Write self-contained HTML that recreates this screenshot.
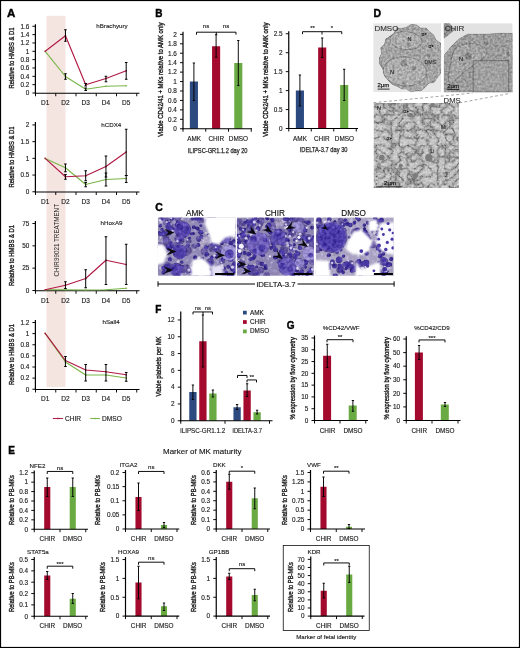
<!DOCTYPE html>
<html><head><meta charset="utf-8"><title>Figure</title>
<style>
html,body{margin:0;padding:0;background:#fff;}
body{width:520px;height:648px;overflow:hidden;font-family:"Liberation Sans",sans-serif;}
svg{display:block;font-family:"Liberation Sans",sans-serif;will-change:transform;}
</style></head><body>
<svg width="520" height="648" viewBox="0 0 520 648">
<rect x="0" y="0" width="520" height="648" fill="#fff"/>
<text x="7.00" y="16.80" font-size="11.5" text-anchor="start" font-weight="bold" fill="#000"  stroke="#000" stroke-width="0.4">A</text>
<rect x="46.50" y="15.80" width="19.00" height="371.20" fill="#f4e5e1" />
<line x1="35.40" y1="24.20" x2="35.40" y2="93.85" stroke="#000" stroke-width="1.2" />
<line x1="34.80" y1="93.25" x2="139.50" y2="93.25" stroke="#000" stroke-width="1.2" />
<line x1="32.40" y1="93.00" x2="35.40" y2="93.00" stroke="#000" stroke-width="0.95" />
<text x="29.30" y="95.30" font-size="6.4" text-anchor="end" font-weight="normal" fill="#1a1a1a"  stroke="#1a1a1a" stroke-width="0.14">0</text>
<line x1="32.40" y1="84.66" x2="35.40" y2="84.66" stroke="#000" stroke-width="0.95" />
<text x="29.30" y="86.96" font-size="6.4" text-anchor="end" font-weight="normal" fill="#1a1a1a"  stroke="#1a1a1a" stroke-width="0.14">0.2</text>
<line x1="32.40" y1="76.32" x2="35.40" y2="76.32" stroke="#000" stroke-width="0.95" />
<text x="29.30" y="78.62" font-size="6.4" text-anchor="end" font-weight="normal" fill="#1a1a1a"  stroke="#1a1a1a" stroke-width="0.14">0.4</text>
<line x1="32.40" y1="67.98" x2="35.40" y2="67.98" stroke="#000" stroke-width="0.95" />
<text x="29.30" y="70.28" font-size="6.4" text-anchor="end" font-weight="normal" fill="#1a1a1a"  stroke="#1a1a1a" stroke-width="0.14">0.6</text>
<line x1="32.40" y1="59.64" x2="35.40" y2="59.64" stroke="#000" stroke-width="0.95" />
<text x="29.30" y="61.94" font-size="6.4" text-anchor="end" font-weight="normal" fill="#1a1a1a"  stroke="#1a1a1a" stroke-width="0.14">0.8</text>
<line x1="32.40" y1="51.30" x2="35.40" y2="51.30" stroke="#000" stroke-width="0.95" />
<text x="29.30" y="53.60" font-size="6.4" text-anchor="end" font-weight="normal" fill="#1a1a1a"  stroke="#1a1a1a" stroke-width="0.14">1</text>
<line x1="32.40" y1="42.96" x2="35.40" y2="42.96" stroke="#000" stroke-width="0.95" />
<text x="29.30" y="45.26" font-size="6.4" text-anchor="end" font-weight="normal" fill="#1a1a1a"  stroke="#1a1a1a" stroke-width="0.14">1.2</text>
<line x1="32.40" y1="34.62" x2="35.40" y2="34.62" stroke="#000" stroke-width="0.95" />
<text x="29.30" y="36.92" font-size="6.4" text-anchor="end" font-weight="normal" fill="#1a1a1a"  stroke="#1a1a1a" stroke-width="0.14">1.4</text>
<line x1="32.40" y1="26.28" x2="35.40" y2="26.28" stroke="#000" stroke-width="0.95" />
<text x="29.30" y="28.58" font-size="6.4" text-anchor="end" font-weight="normal" fill="#1a1a1a"  stroke="#1a1a1a" stroke-width="0.14">1.6</text>
<line x1="35.50" y1="93.25" x2="35.50" y2="96.25" stroke="#000" stroke-width="0.95" />
<line x1="55.75" y1="93.25" x2="55.75" y2="96.25" stroke="#000" stroke-width="0.95" />
<line x1="76.00" y1="93.25" x2="76.00" y2="96.25" stroke="#000" stroke-width="0.95" />
<line x1="96.25" y1="93.25" x2="96.25" y2="96.25" stroke="#000" stroke-width="0.95" />
<line x1="116.50" y1="93.25" x2="116.50" y2="96.25" stroke="#000" stroke-width="0.95" />
<line x1="136.75" y1="93.25" x2="136.75" y2="96.25" stroke="#000" stroke-width="0.95" />
<polyline points="45.20,51.30 65.45,76.50 85.70,89.25 105.95,86.25 126.20,85.75" fill="none" stroke="#7ab648" stroke-width="1.15" stroke-linejoin="round"/>
<polyline points="45.20,51.30 65.45,35.75 85.70,84.75 105.95,78.50 126.20,70.75" fill="none" stroke="#b01a45" stroke-width="1.15" stroke-linejoin="round"/>
<rect x="44.50" y="50.60" width="1.40" height="1.40" fill="#7ab648" />
<rect x="64.75" y="75.80" width="1.40" height="1.40" fill="#7ab648" />
<rect x="85.00" y="88.55" width="1.40" height="1.40" fill="#7ab648" />
<rect x="105.25" y="85.55" width="1.40" height="1.40" fill="#7ab648" />
<rect x="125.50" y="85.05" width="1.40" height="1.40" fill="#7ab648" />
<rect x="44.50" y="50.60" width="1.40" height="1.40" fill="#b01a45" />
<rect x="64.75" y="35.05" width="1.40" height="1.40" fill="#b01a45" />
<rect x="85.00" y="84.05" width="1.40" height="1.40" fill="#b01a45" />
<rect x="105.25" y="77.80" width="1.40" height="1.40" fill="#b01a45" />
<rect x="125.50" y="70.05" width="1.40" height="1.40" fill="#b01a45" />
<line x1="65.45" y1="29.75" x2="65.45" y2="41.25" stroke="#000" stroke-width="1.0" />
<line x1="64.15" y1="29.75" x2="66.75" y2="29.75" stroke="#000" stroke-width="1.0" />
<line x1="64.15" y1="41.25" x2="66.75" y2="41.25" stroke="#000" stroke-width="1.0" />
<line x1="65.45" y1="73.75" x2="65.45" y2="79.25" stroke="#000" stroke-width="1.0" />
<line x1="64.15" y1="73.75" x2="66.75" y2="73.75" stroke="#000" stroke-width="1.0" />
<line x1="64.15" y1="79.25" x2="66.75" y2="79.25" stroke="#000" stroke-width="1.0" />
<line x1="85.70" y1="83.50" x2="85.70" y2="86.00" stroke="#000" stroke-width="1.0" />
<line x1="84.40" y1="83.50" x2="87.00" y2="83.50" stroke="#000" stroke-width="1.0" />
<line x1="84.40" y1="86.00" x2="87.00" y2="86.00" stroke="#000" stroke-width="1.0" />
<line x1="85.70" y1="88.00" x2="85.70" y2="90.50" stroke="#000" stroke-width="1.0" />
<line x1="84.40" y1="88.00" x2="87.00" y2="88.00" stroke="#000" stroke-width="1.0" />
<line x1="84.40" y1="90.50" x2="87.00" y2="90.50" stroke="#000" stroke-width="1.0" />
<line x1="105.95" y1="76.25" x2="105.95" y2="81.75" stroke="#000" stroke-width="1.0" />
<line x1="104.65" y1="76.25" x2="107.25" y2="76.25" stroke="#000" stroke-width="1.0" />
<line x1="104.65" y1="81.75" x2="107.25" y2="81.75" stroke="#000" stroke-width="1.0" />
<line x1="126.20" y1="62.50" x2="126.20" y2="79.25" stroke="#000" stroke-width="1.0" />
<line x1="124.90" y1="62.50" x2="127.50" y2="62.50" stroke="#000" stroke-width="1.0" />
<line x1="124.90" y1="79.25" x2="127.50" y2="79.25" stroke="#000" stroke-width="1.0" />
<text x="45.20" y="105.40" font-size="6.5" text-anchor="middle" font-weight="normal" fill="#1a1a1a"  stroke="#1a1a1a" stroke-width="0.14">D1</text>
<text x="65.45" y="105.40" font-size="6.5" text-anchor="middle" font-weight="normal" fill="#1a1a1a"  stroke="#1a1a1a" stroke-width="0.14">D2</text>
<text x="85.70" y="105.40" font-size="6.5" text-anchor="middle" font-weight="normal" fill="#1a1a1a"  stroke="#1a1a1a" stroke-width="0.14">D3</text>
<text x="105.95" y="105.40" font-size="6.5" text-anchor="middle" font-weight="normal" fill="#1a1a1a"  stroke="#1a1a1a" stroke-width="0.14">D4</text>
<text x="126.20" y="105.40" font-size="6.5" text-anchor="middle" font-weight="normal" fill="#1a1a1a"  stroke="#1a1a1a" stroke-width="0.14">D5</text>
<text x="96.30" y="28.20" font-size="6.2" text-anchor="start" font-weight="normal" fill="#222"  stroke="#222" stroke-width="0.14">hBrachyury</text>
<text transform="translate(14.40,88.50) rotate(-90)" font-size="7.8" fill="#1a1a1a" stroke="#1a1a1a" stroke-width="0.36" textLength="61.00" lengthAdjust="spacingAndGlyphs">Relative to HMBS &amp; D1</text>
<line x1="35.40" y1="122.00" x2="35.40" y2="192.60" stroke="#000" stroke-width="1.2" />
<line x1="34.80" y1="192.00" x2="139.50" y2="192.00" stroke="#000" stroke-width="1.2" />
<line x1="32.40" y1="191.75" x2="35.40" y2="191.75" stroke="#000" stroke-width="0.95" />
<text x="29.30" y="194.05" font-size="6.4" text-anchor="end" font-weight="normal" fill="#1a1a1a"  stroke="#1a1a1a" stroke-width="0.14">0</text>
<line x1="32.40" y1="175.05" x2="35.40" y2="175.05" stroke="#000" stroke-width="0.95" />
<text x="29.30" y="177.35" font-size="6.4" text-anchor="end" font-weight="normal" fill="#1a1a1a"  stroke="#1a1a1a" stroke-width="0.14">0.5</text>
<line x1="32.40" y1="158.35" x2="35.40" y2="158.35" stroke="#000" stroke-width="0.95" />
<text x="29.30" y="160.65" font-size="6.4" text-anchor="end" font-weight="normal" fill="#1a1a1a"  stroke="#1a1a1a" stroke-width="0.14">1</text>
<line x1="32.40" y1="141.65" x2="35.40" y2="141.65" stroke="#000" stroke-width="0.95" />
<text x="29.30" y="143.95" font-size="6.4" text-anchor="end" font-weight="normal" fill="#1a1a1a"  stroke="#1a1a1a" stroke-width="0.14">1.5</text>
<line x1="32.40" y1="124.95" x2="35.40" y2="124.95" stroke="#000" stroke-width="0.95" />
<text x="29.30" y="127.25" font-size="6.4" text-anchor="end" font-weight="normal" fill="#1a1a1a"  stroke="#1a1a1a" stroke-width="0.14">2</text>
<line x1="35.50" y1="192.00" x2="35.50" y2="195.00" stroke="#000" stroke-width="0.95" />
<line x1="55.75" y1="192.00" x2="55.75" y2="195.00" stroke="#000" stroke-width="0.95" />
<line x1="76.00" y1="192.00" x2="76.00" y2="195.00" stroke="#000" stroke-width="0.95" />
<line x1="96.25" y1="192.00" x2="96.25" y2="195.00" stroke="#000" stroke-width="0.95" />
<line x1="116.50" y1="192.00" x2="116.50" y2="195.00" stroke="#000" stroke-width="0.95" />
<line x1="136.75" y1="192.00" x2="136.75" y2="195.00" stroke="#000" stroke-width="0.95" />
<polyline points="45.20,158.40 65.45,167.75 85.70,184.50 105.95,179.50 126.20,178.50" fill="none" stroke="#7ab648" stroke-width="1.15" stroke-linejoin="round"/>
<polyline points="45.20,158.40 65.45,176.75 85.70,175.75 105.95,166.50 126.20,152.00" fill="none" stroke="#b01a45" stroke-width="1.15" stroke-linejoin="round"/>
<rect x="44.50" y="157.70" width="1.40" height="1.40" fill="#7ab648" />
<rect x="64.75" y="167.05" width="1.40" height="1.40" fill="#7ab648" />
<rect x="85.00" y="183.80" width="1.40" height="1.40" fill="#7ab648" />
<rect x="105.25" y="178.80" width="1.40" height="1.40" fill="#7ab648" />
<rect x="125.50" y="177.80" width="1.40" height="1.40" fill="#7ab648" />
<rect x="44.50" y="157.70" width="1.40" height="1.40" fill="#b01a45" />
<rect x="64.75" y="176.05" width="1.40" height="1.40" fill="#b01a45" />
<rect x="85.00" y="175.05" width="1.40" height="1.40" fill="#b01a45" />
<rect x="105.25" y="165.80" width="1.40" height="1.40" fill="#b01a45" />
<rect x="125.50" y="151.30" width="1.40" height="1.40" fill="#b01a45" />
<line x1="65.45" y1="164.00" x2="65.45" y2="171.75" stroke="#000" stroke-width="1.0" />
<line x1="64.15" y1="164.00" x2="66.75" y2="164.00" stroke="#000" stroke-width="1.0" />
<line x1="64.15" y1="171.75" x2="66.75" y2="171.75" stroke="#000" stroke-width="1.0" />
<line x1="65.45" y1="174.50" x2="65.45" y2="179.25" stroke="#000" stroke-width="1.0" />
<line x1="64.15" y1="174.50" x2="66.75" y2="174.50" stroke="#000" stroke-width="1.0" />
<line x1="64.15" y1="179.25" x2="66.75" y2="179.25" stroke="#000" stroke-width="1.0" />
<line x1="85.70" y1="170.75" x2="85.70" y2="180.75" stroke="#000" stroke-width="1.0" />
<line x1="84.40" y1="170.75" x2="87.00" y2="170.75" stroke="#000" stroke-width="1.0" />
<line x1="84.40" y1="180.75" x2="87.00" y2="180.75" stroke="#000" stroke-width="1.0" />
<line x1="85.70" y1="182.50" x2="85.70" y2="186.75" stroke="#000" stroke-width="1.0" />
<line x1="84.40" y1="182.50" x2="87.00" y2="182.50" stroke="#000" stroke-width="1.0" />
<line x1="84.40" y1="186.75" x2="87.00" y2="186.75" stroke="#000" stroke-width="1.0" />
<line x1="105.95" y1="156.00" x2="105.95" y2="177.00" stroke="#000" stroke-width="1.0" />
<line x1="104.65" y1="156.00" x2="107.25" y2="156.00" stroke="#000" stroke-width="1.0" />
<line x1="104.65" y1="177.00" x2="107.25" y2="177.00" stroke="#000" stroke-width="1.0" />
<line x1="105.95" y1="173.00" x2="105.95" y2="186.00" stroke="#000" stroke-width="1.0" />
<line x1="104.65" y1="173.00" x2="107.25" y2="173.00" stroke="#000" stroke-width="1.0" />
<line x1="104.65" y1="186.00" x2="107.25" y2="186.00" stroke="#000" stroke-width="1.0" />
<line x1="126.20" y1="129.25" x2="126.20" y2="175.50" stroke="#000" stroke-width="1.0" />
<line x1="124.90" y1="129.25" x2="127.50" y2="129.25" stroke="#000" stroke-width="1.0" />
<line x1="124.90" y1="175.50" x2="127.50" y2="175.50" stroke="#000" stroke-width="1.0" />
<line x1="126.20" y1="175.50" x2="126.20" y2="182.50" stroke="#000" stroke-width="1.0" />
<line x1="124.90" y1="175.50" x2="127.50" y2="175.50" stroke="#000" stroke-width="1.0" />
<line x1="124.90" y1="182.50" x2="127.50" y2="182.50" stroke="#000" stroke-width="1.0" />
<text x="45.20" y="203.60" font-size="6.5" text-anchor="middle" font-weight="normal" fill="#1a1a1a"  stroke="#1a1a1a" stroke-width="0.14">D1</text>
<text x="65.45" y="203.60" font-size="6.5" text-anchor="middle" font-weight="normal" fill="#1a1a1a"  stroke="#1a1a1a" stroke-width="0.14">D2</text>
<text x="85.70" y="203.60" font-size="6.5" text-anchor="middle" font-weight="normal" fill="#1a1a1a"  stroke="#1a1a1a" stroke-width="0.14">D3</text>
<text x="105.95" y="203.60" font-size="6.5" text-anchor="middle" font-weight="normal" fill="#1a1a1a"  stroke="#1a1a1a" stroke-width="0.14">D4</text>
<text x="126.20" y="203.60" font-size="6.5" text-anchor="middle" font-weight="normal" fill="#1a1a1a"  stroke="#1a1a1a" stroke-width="0.14">D5</text>
<text x="101.30" y="127.00" font-size="6.2" text-anchor="start" font-weight="normal" fill="#222"  stroke="#222" stroke-width="0.14">hCDX4</text>
<text transform="translate(14.40,187.50) rotate(-90)" font-size="7.8" fill="#1a1a1a" stroke="#1a1a1a" stroke-width="0.36" textLength="61.00" lengthAdjust="spacingAndGlyphs">Relative to HMBS &amp; D1</text>
<text transform="translate(58.60,276.50) rotate(-90)" font-size="6.9" fill="#222" stroke="#222" stroke-width="0" textLength="72.50" lengthAdjust="spacingAndGlyphs">CHIR99021 TREATMENT</text>
<line x1="35.40" y1="221.00" x2="35.40" y2="291.35" stroke="#000" stroke-width="1.2" />
<line x1="34.80" y1="290.75" x2="139.50" y2="290.75" stroke="#000" stroke-width="1.2" />
<line x1="32.40" y1="290.50" x2="35.40" y2="290.50" stroke="#000" stroke-width="0.95" />
<text x="29.30" y="292.80" font-size="6.4" text-anchor="end" font-weight="normal" fill="#1a1a1a"  stroke="#1a1a1a" stroke-width="0.14">0</text>
<line x1="32.40" y1="268.17" x2="35.40" y2="268.17" stroke="#000" stroke-width="0.95" />
<text x="29.30" y="270.47" font-size="6.4" text-anchor="end" font-weight="normal" fill="#1a1a1a"  stroke="#1a1a1a" stroke-width="0.14">25</text>
<line x1="32.40" y1="245.84" x2="35.40" y2="245.84" stroke="#000" stroke-width="0.95" />
<text x="29.30" y="248.14" font-size="6.4" text-anchor="end" font-weight="normal" fill="#1a1a1a"  stroke="#1a1a1a" stroke-width="0.14">50</text>
<line x1="32.40" y1="223.51" x2="35.40" y2="223.51" stroke="#000" stroke-width="0.95" />
<text x="29.30" y="225.81" font-size="6.4" text-anchor="end" font-weight="normal" fill="#1a1a1a"  stroke="#1a1a1a" stroke-width="0.14">75</text>
<line x1="35.50" y1="290.75" x2="35.50" y2="293.75" stroke="#000" stroke-width="0.95" />
<line x1="55.75" y1="290.75" x2="55.75" y2="293.75" stroke="#000" stroke-width="0.95" />
<line x1="76.00" y1="290.75" x2="76.00" y2="293.75" stroke="#000" stroke-width="0.95" />
<line x1="96.25" y1="290.75" x2="96.25" y2="293.75" stroke="#000" stroke-width="0.95" />
<line x1="116.50" y1="290.75" x2="116.50" y2="293.75" stroke="#000" stroke-width="0.95" />
<line x1="136.75" y1="290.75" x2="136.75" y2="293.75" stroke="#000" stroke-width="0.95" />
<polyline points="45.20,289.75 65.45,289.75 85.70,290.00 105.95,289.75 126.20,288.30" fill="none" stroke="#7ab648" stroke-width="1.15" stroke-linejoin="round"/>
<polyline points="45.20,289.75 65.45,285.25 85.70,278.50 105.95,260.25 126.20,264.50" fill="none" stroke="#b01a45" stroke-width="1.15" stroke-linejoin="round"/>
<rect x="44.50" y="289.05" width="1.40" height="1.40" fill="#7ab648" />
<rect x="64.75" y="289.05" width="1.40" height="1.40" fill="#7ab648" />
<rect x="85.00" y="289.30" width="1.40" height="1.40" fill="#7ab648" />
<rect x="105.25" y="289.05" width="1.40" height="1.40" fill="#7ab648" />
<rect x="125.50" y="287.60" width="1.40" height="1.40" fill="#7ab648" />
<rect x="44.50" y="289.05" width="1.40" height="1.40" fill="#b01a45" />
<rect x="64.75" y="284.55" width="1.40" height="1.40" fill="#b01a45" />
<rect x="85.00" y="277.80" width="1.40" height="1.40" fill="#b01a45" />
<rect x="105.25" y="259.55" width="1.40" height="1.40" fill="#b01a45" />
<rect x="125.50" y="263.80" width="1.40" height="1.40" fill="#b01a45" />
<line x1="65.45" y1="281.75" x2="65.45" y2="288.50" stroke="#000" stroke-width="1.0" />
<line x1="64.15" y1="281.75" x2="66.75" y2="281.75" stroke="#000" stroke-width="1.0" />
<line x1="64.15" y1="288.50" x2="66.75" y2="288.50" stroke="#000" stroke-width="1.0" />
<line x1="85.70" y1="269.75" x2="85.70" y2="287.75" stroke="#000" stroke-width="1.0" />
<line x1="84.40" y1="269.75" x2="87.00" y2="269.75" stroke="#000" stroke-width="1.0" />
<line x1="84.40" y1="287.75" x2="87.00" y2="287.75" stroke="#000" stroke-width="1.0" />
<line x1="105.95" y1="236.75" x2="105.95" y2="284.50" stroke="#000" stroke-width="1.0" />
<line x1="104.65" y1="236.75" x2="107.25" y2="236.75" stroke="#000" stroke-width="1.0" />
<line x1="104.65" y1="284.50" x2="107.25" y2="284.50" stroke="#000" stroke-width="1.0" />
<line x1="126.20" y1="244.25" x2="126.20" y2="284.50" stroke="#000" stroke-width="1.0" />
<line x1="124.90" y1="244.25" x2="127.50" y2="244.25" stroke="#000" stroke-width="1.0" />
<line x1="124.90" y1="284.50" x2="127.50" y2="284.50" stroke="#000" stroke-width="1.0" />
<text x="45.20" y="302.50" font-size="6.5" text-anchor="middle" font-weight="normal" fill="#1a1a1a"  stroke="#1a1a1a" stroke-width="0.14">D1</text>
<text x="65.45" y="302.50" font-size="6.5" text-anchor="middle" font-weight="normal" fill="#1a1a1a"  stroke="#1a1a1a" stroke-width="0.14">D2</text>
<text x="85.70" y="302.50" font-size="6.5" text-anchor="middle" font-weight="normal" fill="#1a1a1a"  stroke="#1a1a1a" stroke-width="0.14">D3</text>
<text x="105.95" y="302.50" font-size="6.5" text-anchor="middle" font-weight="normal" fill="#1a1a1a"  stroke="#1a1a1a" stroke-width="0.14">D4</text>
<text x="126.20" y="302.50" font-size="6.5" text-anchor="middle" font-weight="normal" fill="#1a1a1a"  stroke="#1a1a1a" stroke-width="0.14">D5</text>
<text x="100.50" y="225.00" font-size="6.2" text-anchor="start" font-weight="normal" fill="#222"  stroke="#222" stroke-width="0.14">hHoxA9</text>
<text transform="translate(14.40,286.00) rotate(-90)" font-size="7.8" fill="#1a1a1a" stroke="#1a1a1a" stroke-width="0.36" textLength="61.00" lengthAdjust="spacingAndGlyphs">Relative to HMBS &amp; D1</text>
<line x1="35.40" y1="320.00" x2="35.40" y2="390.10" stroke="#000" stroke-width="1.2" />
<line x1="34.80" y1="389.50" x2="139.50" y2="389.50" stroke="#000" stroke-width="1.2" />
<line x1="32.40" y1="389.25" x2="35.40" y2="389.25" stroke="#000" stroke-width="0.95" />
<text x="29.30" y="391.55" font-size="6.4" text-anchor="end" font-weight="normal" fill="#1a1a1a"  stroke="#1a1a1a" stroke-width="0.14">0</text>
<line x1="32.40" y1="378.12" x2="35.40" y2="378.12" stroke="#000" stroke-width="0.95" />
<text x="29.30" y="380.43" font-size="6.4" text-anchor="end" font-weight="normal" fill="#1a1a1a"  stroke="#1a1a1a" stroke-width="0.14">0.2</text>
<line x1="32.40" y1="367.00" x2="35.40" y2="367.00" stroke="#000" stroke-width="0.95" />
<text x="29.30" y="369.30" font-size="6.4" text-anchor="end" font-weight="normal" fill="#1a1a1a"  stroke="#1a1a1a" stroke-width="0.14">0.4</text>
<line x1="32.40" y1="355.88" x2="35.40" y2="355.88" stroke="#000" stroke-width="0.95" />
<text x="29.30" y="358.18" font-size="6.4" text-anchor="end" font-weight="normal" fill="#1a1a1a"  stroke="#1a1a1a" stroke-width="0.14">0.6</text>
<line x1="32.40" y1="344.75" x2="35.40" y2="344.75" stroke="#000" stroke-width="0.95" />
<text x="29.30" y="347.05" font-size="6.4" text-anchor="end" font-weight="normal" fill="#1a1a1a"  stroke="#1a1a1a" stroke-width="0.14">0.8</text>
<line x1="32.40" y1="333.62" x2="35.40" y2="333.62" stroke="#000" stroke-width="0.95" />
<text x="29.30" y="335.93" font-size="6.4" text-anchor="end" font-weight="normal" fill="#1a1a1a"  stroke="#1a1a1a" stroke-width="0.14">1</text>
<line x1="32.40" y1="322.50" x2="35.40" y2="322.50" stroke="#000" stroke-width="0.95" />
<text x="29.30" y="324.80" font-size="6.4" text-anchor="end" font-weight="normal" fill="#1a1a1a"  stroke="#1a1a1a" stroke-width="0.14">1.2</text>
<line x1="35.50" y1="389.50" x2="35.50" y2="392.50" stroke="#000" stroke-width="0.95" />
<line x1="55.75" y1="389.50" x2="55.75" y2="392.50" stroke="#000" stroke-width="0.95" />
<line x1="76.00" y1="389.50" x2="76.00" y2="392.50" stroke="#000" stroke-width="0.95" />
<line x1="96.25" y1="389.50" x2="96.25" y2="392.50" stroke="#000" stroke-width="0.95" />
<line x1="116.50" y1="389.50" x2="116.50" y2="392.50" stroke="#000" stroke-width="0.95" />
<line x1="136.75" y1="389.50" x2="136.75" y2="392.50" stroke="#000" stroke-width="0.95" />
<polyline points="45.20,333.40 65.45,362.00 85.70,375.00 105.95,375.00 126.20,378.00" fill="none" stroke="#7ab648" stroke-width="1.15" stroke-linejoin="round"/>
<polyline points="45.20,333.40 65.45,360.50 85.70,370.00 105.95,371.75 126.20,374.75" fill="none" stroke="#b01a45" stroke-width="1.15" stroke-linejoin="round"/>
<rect x="44.50" y="332.70" width="1.40" height="1.40" fill="#7ab648" />
<rect x="64.75" y="361.30" width="1.40" height="1.40" fill="#7ab648" />
<rect x="85.00" y="374.30" width="1.40" height="1.40" fill="#7ab648" />
<rect x="105.25" y="374.30" width="1.40" height="1.40" fill="#7ab648" />
<rect x="125.50" y="377.30" width="1.40" height="1.40" fill="#7ab648" />
<rect x="44.50" y="332.70" width="1.40" height="1.40" fill="#b01a45" />
<rect x="64.75" y="359.80" width="1.40" height="1.40" fill="#b01a45" />
<rect x="85.00" y="369.30" width="1.40" height="1.40" fill="#b01a45" />
<rect x="105.25" y="371.05" width="1.40" height="1.40" fill="#b01a45" />
<rect x="125.50" y="374.05" width="1.40" height="1.40" fill="#b01a45" />
<line x1="65.45" y1="356.50" x2="65.45" y2="366.50" stroke="#000" stroke-width="1.0" />
<line x1="64.15" y1="356.50" x2="66.75" y2="356.50" stroke="#000" stroke-width="1.0" />
<line x1="64.15" y1="366.50" x2="66.75" y2="366.50" stroke="#000" stroke-width="1.0" />
<line x1="85.70" y1="364.50" x2="85.70" y2="381.00" stroke="#000" stroke-width="1.0" />
<line x1="84.40" y1="364.50" x2="87.00" y2="364.50" stroke="#000" stroke-width="1.0" />
<line x1="84.40" y1="381.00" x2="87.00" y2="381.00" stroke="#000" stroke-width="1.0" />
<line x1="105.95" y1="364.50" x2="105.95" y2="381.00" stroke="#000" stroke-width="1.0" />
<line x1="104.65" y1="364.50" x2="107.25" y2="364.50" stroke="#000" stroke-width="1.0" />
<line x1="104.65" y1="381.00" x2="107.25" y2="381.00" stroke="#000" stroke-width="1.0" />
<line x1="126.20" y1="372.50" x2="126.20" y2="381.25" stroke="#000" stroke-width="1.0" />
<line x1="124.90" y1="372.50" x2="127.50" y2="372.50" stroke="#000" stroke-width="1.0" />
<line x1="124.90" y1="381.25" x2="127.50" y2="381.25" stroke="#000" stroke-width="1.0" />
<text x="45.20" y="400.90" font-size="6.5" text-anchor="middle" font-weight="normal" fill="#1a1a1a"  stroke="#1a1a1a" stroke-width="0.14">D1</text>
<text x="65.45" y="400.90" font-size="6.5" text-anchor="middle" font-weight="normal" fill="#1a1a1a"  stroke="#1a1a1a" stroke-width="0.14">D2</text>
<text x="85.70" y="400.90" font-size="6.5" text-anchor="middle" font-weight="normal" fill="#1a1a1a"  stroke="#1a1a1a" stroke-width="0.14">D3</text>
<text x="105.95" y="400.90" font-size="6.5" text-anchor="middle" font-weight="normal" fill="#1a1a1a"  stroke="#1a1a1a" stroke-width="0.14">D4</text>
<text x="126.20" y="400.90" font-size="6.5" text-anchor="middle" font-weight="normal" fill="#1a1a1a"  stroke="#1a1a1a" stroke-width="0.14">D5</text>
<text x="102.50" y="324.00" font-size="6.2" text-anchor="start" font-weight="normal" fill="#222"  stroke="#222" stroke-width="0.14">hSall4</text>
<text transform="translate(14.40,385.00) rotate(-90)" font-size="7.8" fill="#1a1a1a" stroke="#1a1a1a" stroke-width="0.36" textLength="61.00" lengthAdjust="spacingAndGlyphs">Relative to HMBS &amp; D1</text>
<line x1="52.90" y1="418.50" x2="63.00" y2="418.50" stroke="#b01a45" stroke-width="1.0" />
<rect x="57.20" y="417.80" width="1.50" height="1.40" fill="#b01a45" />
<text x="65.00" y="420.80" font-size="6.6" text-anchor="start" font-weight="normal" fill="#1a1a1a"  stroke="#1a1a1a" stroke-width="0.14">CHIR</text>
<line x1="90.20" y1="418.50" x2="100.00" y2="418.50" stroke="#7ab648" stroke-width="1.0" />
<rect x="94.40" y="417.80" width="1.50" height="1.40" fill="#7ab648" />
<text x="102.00" y="420.80" font-size="6.6" text-anchor="start" font-weight="normal" fill="#1a1a1a"  stroke="#1a1a1a" stroke-width="0.14">DMSO</text>
<text x="155.30" y="16.60" font-size="10" text-anchor="start" font-weight="bold" fill="#000"  stroke="#000" stroke-width="0.4">B</text>
<rect x="189.85" y="81.50" width="8.10" height="47.25" fill="#2c4a80" />
<rect x="212.05" y="46.25" width="8.10" height="82.50" fill="#a40a2e" />
<rect x="234.25" y="63.00" width="8.10" height="65.75" fill="#6aaa42" />
<line x1="183.00" y1="31.75" x2="183.00" y2="129.35" stroke="#000" stroke-width="1.2" />
<line x1="182.40" y1="128.75" x2="252.00" y2="128.75" stroke="#000" stroke-width="1.2" />
<line x1="180.00" y1="128.75" x2="183.00" y2="128.75" stroke="#000" stroke-width="0.95" />
<text x="176.80" y="131.05" font-size="6.4" text-anchor="end" font-weight="normal" fill="#1a1a1a"  stroke="#1a1a1a" stroke-width="0.14">0</text>
<line x1="180.00" y1="119.31" x2="183.00" y2="119.31" stroke="#000" stroke-width="0.95" />
<text x="176.80" y="121.61" font-size="6.4" text-anchor="end" font-weight="normal" fill="#1a1a1a"  stroke="#1a1a1a" stroke-width="0.14">0.2</text>
<line x1="180.00" y1="109.87" x2="183.00" y2="109.87" stroke="#000" stroke-width="0.95" />
<text x="176.80" y="112.17" font-size="6.4" text-anchor="end" font-weight="normal" fill="#1a1a1a"  stroke="#1a1a1a" stroke-width="0.14">0.4</text>
<line x1="180.00" y1="100.43" x2="183.00" y2="100.43" stroke="#000" stroke-width="0.95" />
<text x="176.80" y="102.73" font-size="6.4" text-anchor="end" font-weight="normal" fill="#1a1a1a"  stroke="#1a1a1a" stroke-width="0.14">0.6</text>
<line x1="180.00" y1="90.99" x2="183.00" y2="90.99" stroke="#000" stroke-width="0.95" />
<text x="176.80" y="93.29" font-size="6.4" text-anchor="end" font-weight="normal" fill="#1a1a1a"  stroke="#1a1a1a" stroke-width="0.14">0.8</text>
<line x1="180.00" y1="81.55" x2="183.00" y2="81.55" stroke="#000" stroke-width="0.95" />
<text x="176.80" y="83.85" font-size="6.4" text-anchor="end" font-weight="normal" fill="#1a1a1a"  stroke="#1a1a1a" stroke-width="0.14">1</text>
<line x1="180.00" y1="72.11" x2="183.00" y2="72.11" stroke="#000" stroke-width="0.95" />
<text x="176.80" y="74.41" font-size="6.4" text-anchor="end" font-weight="normal" fill="#1a1a1a"  stroke="#1a1a1a" stroke-width="0.14">1.2</text>
<line x1="180.00" y1="62.67" x2="183.00" y2="62.67" stroke="#000" stroke-width="0.95" />
<text x="176.80" y="64.97" font-size="6.4" text-anchor="end" font-weight="normal" fill="#1a1a1a"  stroke="#1a1a1a" stroke-width="0.14">1.4</text>
<line x1="180.00" y1="53.23" x2="183.00" y2="53.23" stroke="#000" stroke-width="0.95" />
<text x="176.80" y="55.53" font-size="6.4" text-anchor="end" font-weight="normal" fill="#1a1a1a"  stroke="#1a1a1a" stroke-width="0.14">1.6</text>
<line x1="180.00" y1="43.79" x2="183.00" y2="43.79" stroke="#000" stroke-width="0.95" />
<text x="176.80" y="46.09" font-size="6.4" text-anchor="end" font-weight="normal" fill="#1a1a1a"  stroke="#1a1a1a" stroke-width="0.14">1.8</text>
<line x1="180.00" y1="34.35" x2="183.00" y2="34.35" stroke="#000" stroke-width="0.95" />
<text x="176.80" y="36.65" font-size="6.4" text-anchor="end" font-weight="normal" fill="#1a1a1a"  stroke="#1a1a1a" stroke-width="0.14">2</text>
<line x1="183.00" y1="128.75" x2="183.00" y2="131.75" stroke="#000" stroke-width="0.95" />
<line x1="205.75" y1="128.75" x2="205.75" y2="131.75" stroke="#000" stroke-width="0.95" />
<line x1="228.50" y1="128.75" x2="228.50" y2="131.75" stroke="#000" stroke-width="0.95" />
<line x1="251.25" y1="128.75" x2="251.25" y2="131.75" stroke="#000" stroke-width="0.95" />
<line x1="193.90" y1="63.00" x2="193.90" y2="100.50" stroke="#000" stroke-width="0.95" />
<line x1="192.75" y1="63.00" x2="195.05" y2="63.00" stroke="#000" stroke-width="0.95" />
<line x1="192.75" y1="100.50" x2="195.05" y2="100.50" stroke="#000" stroke-width="0.95" />
<line x1="216.10" y1="34.75" x2="216.10" y2="57.25" stroke="#000" stroke-width="0.95" />
<line x1="214.95" y1="34.75" x2="217.25" y2="34.75" stroke="#000" stroke-width="0.95" />
<line x1="214.95" y1="57.25" x2="217.25" y2="57.25" stroke="#000" stroke-width="0.95" />
<line x1="238.30" y1="40.50" x2="238.30" y2="85.50" stroke="#000" stroke-width="0.95" />
<line x1="237.15" y1="40.50" x2="239.45" y2="40.50" stroke="#000" stroke-width="0.95" />
<line x1="237.15" y1="85.50" x2="239.45" y2="85.50" stroke="#000" stroke-width="0.95" />
<polyline points="196.50,34.70 196.50,32.20 236.00,32.20 236.00,34.70" fill="none" stroke="#000" stroke-width="0.95"/>
<line x1="216.30" y1="32.20" x2="216.30" y2="35.00" stroke="#000" stroke-width="0.95" />
<text x="206.00" y="28.20" font-size="6" text-anchor="middle" font-weight="normal" fill="#1a1a1a"  stroke="#1a1a1a" stroke-width="0.14">ns</text>
<text x="226.00" y="28.20" font-size="6" text-anchor="middle" font-weight="normal" fill="#1a1a1a"  stroke="#1a1a1a" stroke-width="0.14">ns</text>
<text x="194.20" y="140.60" font-size="6.4" text-anchor="middle" font-weight="normal" fill="#1a1a1a"  stroke="#1a1a1a" stroke-width="0.14">AMK</text>
<text x="216.20" y="140.60" font-size="6.4" text-anchor="middle" font-weight="normal" fill="#1a1a1a"  stroke="#1a1a1a" stroke-width="0.14">CHIR</text>
<text x="238.40" y="140.60" font-size="6.4" text-anchor="middle" font-weight="normal" fill="#1a1a1a"  stroke="#1a1a1a" stroke-width="0.14">DMSO</text>
<text x="217.80" y="152.60" font-size="7.8" text-anchor="middle" font-weight="normal" fill="#1a1a1a" textLength="59.50" lengthAdjust="spacingAndGlyphs" stroke="#1a1a1a" stroke-width="0.25">iLIPSC-GR1.1.2 day 20</text>
<text transform="translate(163.10,136.75) rotate(-90)" font-size="7.8" fill="#1a1a1a" stroke="#1a1a1a" stroke-width="0.36" textLength="114.25" lengthAdjust="spacingAndGlyphs">Viable CD42/41 + MKs relative to AMK only</text>
<rect x="295.85" y="90.50" width="8.10" height="38.00" fill="#2c4a80" />
<rect x="318.15" y="47.50" width="8.10" height="81.00" fill="#a40a2e" />
<rect x="340.15" y="85.00" width="8.10" height="43.50" fill="#6aaa42" />
<line x1="288.75" y1="31.25" x2="288.75" y2="129.10" stroke="#000" stroke-width="1.2" />
<line x1="288.15" y1="128.50" x2="358.00" y2="128.50" stroke="#000" stroke-width="1.2" />
<line x1="285.75" y1="128.50" x2="288.75" y2="128.50" stroke="#000" stroke-width="0.95" />
<text x="282.60" y="130.80" font-size="6.4" text-anchor="end" font-weight="normal" fill="#1a1a1a"  stroke="#1a1a1a" stroke-width="0.14">0</text>
<line x1="285.75" y1="109.55" x2="288.75" y2="109.55" stroke="#000" stroke-width="0.95" />
<text x="282.60" y="111.85" font-size="6.4" text-anchor="end" font-weight="normal" fill="#1a1a1a"  stroke="#1a1a1a" stroke-width="0.14">0.5</text>
<line x1="285.75" y1="90.60" x2="288.75" y2="90.60" stroke="#000" stroke-width="0.95" />
<text x="282.60" y="92.90" font-size="6.4" text-anchor="end" font-weight="normal" fill="#1a1a1a"  stroke="#1a1a1a" stroke-width="0.14">1</text>
<line x1="285.75" y1="71.65" x2="288.75" y2="71.65" stroke="#000" stroke-width="0.95" />
<text x="282.60" y="73.95" font-size="6.4" text-anchor="end" font-weight="normal" fill="#1a1a1a"  stroke="#1a1a1a" stroke-width="0.14">1.5</text>
<line x1="285.75" y1="52.70" x2="288.75" y2="52.70" stroke="#000" stroke-width="0.95" />
<text x="282.60" y="55.00" font-size="6.4" text-anchor="end" font-weight="normal" fill="#1a1a1a"  stroke="#1a1a1a" stroke-width="0.14">2</text>
<line x1="285.75" y1="33.75" x2="288.75" y2="33.75" stroke="#000" stroke-width="0.95" />
<text x="282.60" y="36.05" font-size="6.4" text-anchor="end" font-weight="normal" fill="#1a1a1a"  stroke="#1a1a1a" stroke-width="0.14">2.5</text>
<line x1="288.75" y1="128.50" x2="288.75" y2="131.50" stroke="#000" stroke-width="0.95" />
<line x1="311.25" y1="128.50" x2="311.25" y2="131.50" stroke="#000" stroke-width="0.95" />
<line x1="333.75" y1="128.50" x2="333.75" y2="131.50" stroke="#000" stroke-width="0.95" />
<line x1="356.25" y1="128.50" x2="356.25" y2="131.50" stroke="#000" stroke-width="0.95" />
<line x1="299.90" y1="75.00" x2="299.90" y2="106.00" stroke="#000" stroke-width="0.95" />
<line x1="298.75" y1="75.00" x2="301.05" y2="75.00" stroke="#000" stroke-width="0.95" />
<line x1="298.75" y1="106.00" x2="301.05" y2="106.00" stroke="#000" stroke-width="0.95" />
<line x1="322.20" y1="38.00" x2="322.20" y2="57.50" stroke="#000" stroke-width="0.95" />
<line x1="321.05" y1="38.00" x2="323.35" y2="38.00" stroke="#000" stroke-width="0.95" />
<line x1="321.05" y1="57.50" x2="323.35" y2="57.50" stroke="#000" stroke-width="0.95" />
<line x1="344.20" y1="69.25" x2="344.20" y2="100.50" stroke="#000" stroke-width="0.95" />
<line x1="343.05" y1="69.25" x2="345.35" y2="69.25" stroke="#000" stroke-width="0.95" />
<line x1="343.05" y1="100.50" x2="345.35" y2="100.50" stroke="#000" stroke-width="0.95" />
<polyline points="302.50,34.20 302.50,31.70 341.75,31.70 341.75,34.20" fill="none" stroke="#000" stroke-width="0.95"/>
<line x1="322.00" y1="31.70" x2="322.00" y2="34.50" stroke="#000" stroke-width="0.95" />
<text x="312.50" y="30.40" font-size="6" text-anchor="middle" font-weight="normal" fill="#1a1a1a"  stroke="#1a1a1a" stroke-width="0.14">**</text>
<text x="332.00" y="30.40" font-size="6" text-anchor="middle" font-weight="normal" fill="#1a1a1a"  stroke="#1a1a1a" stroke-width="0.14">*</text>
<text x="300.00" y="140.60" font-size="6.4" text-anchor="middle" font-weight="normal" fill="#1a1a1a"  stroke="#1a1a1a" stroke-width="0.14">AMK</text>
<text x="321.75" y="140.60" font-size="6.4" text-anchor="middle" font-weight="normal" fill="#1a1a1a"  stroke="#1a1a1a" stroke-width="0.14">CHIR</text>
<text x="344.40" y="140.60" font-size="6.4" text-anchor="middle" font-weight="normal" fill="#1a1a1a"  stroke="#1a1a1a" stroke-width="0.14">DMSO</text>
<text x="323.75" y="152.30" font-size="7.8" text-anchor="middle" font-weight="normal" fill="#1a1a1a" textLength="47.50" lengthAdjust="spacingAndGlyphs" stroke="#1a1a1a" stroke-width="0.25">iDELTA-3.7 day 30</text>
<text transform="translate(268.10,136.75) rotate(-90)" font-size="7.8" fill="#1a1a1a" stroke="#1a1a1a" stroke-width="0.36" textLength="114.25" lengthAdjust="spacingAndGlyphs">Viable CD42/41 + MKs relative to AMK only</text>
<text x="155.30" y="313.30" font-size="10" text-anchor="start" font-weight="bold" fill="#000"  stroke="#000" stroke-width="0.4">F</text>
<rect x="189.25" y="392.00" width="7.30" height="28.75" fill="#2c4a80" />
<rect x="199.25" y="341.25" width="7.30" height="79.50" fill="#a40a2e" />
<rect x="209.25" y="393.50" width="7.30" height="27.25" fill="#6aaa42" />
<rect x="233.45" y="407.25" width="7.30" height="13.50" fill="#2c4a80" />
<rect x="243.45" y="390.50" width="7.30" height="30.25" fill="#a40a2e" />
<rect x="253.45" y="412.25" width="7.30" height="8.50" fill="#6aaa42" />
<line x1="180.75" y1="311.50" x2="180.75" y2="421.35" stroke="#000" stroke-width="1.2" />
<line x1="180.15" y1="420.75" x2="272.50" y2="420.75" stroke="#000" stroke-width="1.2" />
<line x1="177.75" y1="420.75" x2="180.75" y2="420.75" stroke="#000" stroke-width="0.95" />
<text x="174.60" y="423.05" font-size="6.4" text-anchor="end" font-weight="normal" fill="#1a1a1a"  stroke="#1a1a1a" stroke-width="0.14">0</text>
<line x1="177.75" y1="403.95" x2="180.75" y2="403.95" stroke="#000" stroke-width="0.95" />
<text x="174.60" y="406.25" font-size="6.4" text-anchor="end" font-weight="normal" fill="#1a1a1a"  stroke="#1a1a1a" stroke-width="0.14">2</text>
<line x1="177.75" y1="387.15" x2="180.75" y2="387.15" stroke="#000" stroke-width="0.95" />
<text x="174.60" y="389.45" font-size="6.4" text-anchor="end" font-weight="normal" fill="#1a1a1a"  stroke="#1a1a1a" stroke-width="0.14">4</text>
<line x1="177.75" y1="370.35" x2="180.75" y2="370.35" stroke="#000" stroke-width="0.95" />
<text x="174.60" y="372.65" font-size="6.4" text-anchor="end" font-weight="normal" fill="#1a1a1a"  stroke="#1a1a1a" stroke-width="0.14">6</text>
<line x1="177.75" y1="353.55" x2="180.75" y2="353.55" stroke="#000" stroke-width="0.95" />
<text x="174.60" y="355.85" font-size="6.4" text-anchor="end" font-weight="normal" fill="#1a1a1a"  stroke="#1a1a1a" stroke-width="0.14">8</text>
<line x1="177.75" y1="336.75" x2="180.75" y2="336.75" stroke="#000" stroke-width="0.95" />
<text x="174.60" y="339.05" font-size="6.4" text-anchor="end" font-weight="normal" fill="#1a1a1a"  stroke="#1a1a1a" stroke-width="0.14">10</text>
<line x1="177.75" y1="319.95" x2="180.75" y2="319.95" stroke="#000" stroke-width="0.95" />
<text x="174.60" y="322.25" font-size="6.4" text-anchor="end" font-weight="normal" fill="#1a1a1a"  stroke="#1a1a1a" stroke-width="0.14">12</text>
<line x1="180.75" y1="420.75" x2="180.75" y2="423.75" stroke="#000" stroke-width="0.95" />
<line x1="225.00" y1="420.75" x2="225.00" y2="423.75" stroke="#000" stroke-width="0.95" />
<line x1="269.50" y1="420.75" x2="269.50" y2="423.75" stroke="#000" stroke-width="0.95" />
<line x1="192.90" y1="385.00" x2="192.90" y2="399.50" stroke="#000" stroke-width="0.95" />
<line x1="191.75" y1="385.00" x2="194.05" y2="385.00" stroke="#000" stroke-width="0.95" />
<line x1="191.75" y1="399.50" x2="194.05" y2="399.50" stroke="#000" stroke-width="0.95" />
<line x1="202.90" y1="315.00" x2="202.90" y2="367.00" stroke="#000" stroke-width="0.95" />
<line x1="201.75" y1="315.00" x2="204.05" y2="315.00" stroke="#000" stroke-width="0.95" />
<line x1="201.75" y1="367.00" x2="204.05" y2="367.00" stroke="#000" stroke-width="0.95" />
<line x1="212.90" y1="390.00" x2="212.90" y2="397.00" stroke="#000" stroke-width="0.95" />
<line x1="211.75" y1="390.00" x2="214.05" y2="390.00" stroke="#000" stroke-width="0.95" />
<line x1="211.75" y1="397.00" x2="214.05" y2="397.00" stroke="#000" stroke-width="0.95" />
<line x1="237.10" y1="404.50" x2="237.10" y2="409.50" stroke="#000" stroke-width="0.95" />
<line x1="235.95" y1="404.50" x2="238.25" y2="404.50" stroke="#000" stroke-width="0.95" />
<line x1="235.95" y1="409.50" x2="238.25" y2="409.50" stroke="#000" stroke-width="0.95" />
<line x1="247.10" y1="383.75" x2="247.10" y2="396.50" stroke="#000" stroke-width="0.95" />
<line x1="245.95" y1="383.75" x2="248.25" y2="383.75" stroke="#000" stroke-width="0.95" />
<line x1="245.95" y1="396.50" x2="248.25" y2="396.50" stroke="#000" stroke-width="0.95" />
<line x1="257.10" y1="410.25" x2="257.10" y2="414.00" stroke="#000" stroke-width="0.95" />
<line x1="255.95" y1="410.25" x2="258.25" y2="410.25" stroke="#000" stroke-width="0.95" />
<line x1="255.95" y1="414.00" x2="258.25" y2="414.00" stroke="#000" stroke-width="0.95" />
<polyline points="193.00,314.45 193.00,311.95 212.50,311.95 212.50,314.45" fill="none" stroke="#000" stroke-width="0.95"/>
<line x1="203.00" y1="311.95" x2="203.00" y2="314.75" stroke="#000" stroke-width="0.95" />
<text x="197.75" y="309.60" font-size="5.8" text-anchor="middle" font-weight="normal" fill="#1a1a1a"  stroke="#1a1a1a" stroke-width="0.14">ns</text>
<text x="207.90" y="309.60" font-size="5.8" text-anchor="middle" font-weight="normal" fill="#1a1a1a"  stroke="#1a1a1a" stroke-width="0.14">ns</text>
<polyline points="237.50,377.95 237.50,375.45 247.00,375.45 247.00,377.95" fill="none" stroke="#000" stroke-width="0.95"/>
<text x="242.00" y="374.60" font-size="6" text-anchor="middle" font-weight="normal" fill="#1a1a1a"  stroke="#1a1a1a" stroke-width="0.14">*</text>
<polyline points="247.00,382.45 247.00,379.95 256.50,379.95 256.50,382.45" fill="none" stroke="#000" stroke-width="0.95"/>
<text x="251.75" y="379.20" font-size="6" text-anchor="middle" font-weight="normal" fill="#1a1a1a"  stroke="#1a1a1a" stroke-width="0.14">**</text>
<rect x="243.00" y="310.75" width="3.75" height="3.75" fill="#2c4a80" />
<text x="250.00" y="314.65" font-size="6.4" text-anchor="start" font-weight="normal" fill="#1a1a1a"  stroke="#1a1a1a" stroke-width="0.14">AMK</text>
<rect x="243.00" y="320.15" width="3.75" height="3.75" fill="#a40a2e" />
<text x="250.00" y="324.05" font-size="6.4" text-anchor="start" font-weight="normal" fill="#1a1a1a"  stroke="#1a1a1a" stroke-width="0.14">CHIR</text>
<rect x="243.00" y="329.55" width="3.75" height="3.75" fill="#6aaa42" />
<text x="250.00" y="333.45" font-size="6.4" text-anchor="start" font-weight="normal" fill="#1a1a1a"  stroke="#1a1a1a" stroke-width="0.14">DMSO</text>
<text transform="translate(161.20,396.50) rotate(-90)" font-size="7.8" fill="#1a1a1a" stroke="#1a1a1a" stroke-width="0.36" textLength="60.00" lengthAdjust="spacingAndGlyphs">Viable platelets per MK</text>
<text x="202.75" y="433.00" font-size="6.3" text-anchor="middle" font-weight="normal" fill="#1a1a1a" textLength="45.00" lengthAdjust="spacingAndGlyphs"  stroke="#1a1a1a" stroke-width="0.14">iLIPSC-GR1.1.2</text>
<text x="247.25" y="433.00" font-size="6.3" text-anchor="middle" font-weight="normal" fill="#1a1a1a" textLength="29.30" lengthAdjust="spacingAndGlyphs"  stroke="#1a1a1a" stroke-width="0.14">iDELTA-3.7</text>
<text x="286.80" y="328.80" font-size="10" text-anchor="start" font-weight="bold" fill="#000"  stroke="#000" stroke-width="0.4">G</text>
<rect x="323.10" y="355.75" width="8.00" height="64.75" fill="#a40a2e" />
<rect x="348.70" y="405.50" width="8.00" height="15.00" fill="#6aaa42" />
<line x1="314.50" y1="335.50" x2="314.50" y2="421.10" stroke="#000" stroke-width="1.2" />
<line x1="313.90" y1="420.50" x2="368.00" y2="420.50" stroke="#000" stroke-width="1.2" />
<line x1="311.50" y1="420.50" x2="314.50" y2="420.50" stroke="#000" stroke-width="0.95" />
<text x="308.30" y="422.80" font-size="6.4" text-anchor="end" font-weight="normal" fill="#1a1a1a"  stroke="#1a1a1a" stroke-width="0.14">0</text>
<line x1="311.50" y1="408.71" x2="314.50" y2="408.71" stroke="#000" stroke-width="0.95" />
<text x="308.30" y="411.01" font-size="6.4" text-anchor="end" font-weight="normal" fill="#1a1a1a"  stroke="#1a1a1a" stroke-width="0.14">5</text>
<line x1="311.50" y1="396.92" x2="314.50" y2="396.92" stroke="#000" stroke-width="0.95" />
<text x="308.30" y="399.22" font-size="6.4" text-anchor="end" font-weight="normal" fill="#1a1a1a"  stroke="#1a1a1a" stroke-width="0.14">10</text>
<line x1="311.50" y1="385.13" x2="314.50" y2="385.13" stroke="#000" stroke-width="0.95" />
<text x="308.30" y="387.43" font-size="6.4" text-anchor="end" font-weight="normal" fill="#1a1a1a"  stroke="#1a1a1a" stroke-width="0.14">15</text>
<line x1="311.50" y1="373.34" x2="314.50" y2="373.34" stroke="#000" stroke-width="0.95" />
<text x="308.30" y="375.64" font-size="6.4" text-anchor="end" font-weight="normal" fill="#1a1a1a"  stroke="#1a1a1a" stroke-width="0.14">20</text>
<line x1="311.50" y1="361.55" x2="314.50" y2="361.55" stroke="#000" stroke-width="0.95" />
<text x="308.30" y="363.85" font-size="6.4" text-anchor="end" font-weight="normal" fill="#1a1a1a"  stroke="#1a1a1a" stroke-width="0.14">25</text>
<line x1="311.50" y1="349.76" x2="314.50" y2="349.76" stroke="#000" stroke-width="0.95" />
<text x="308.30" y="352.06" font-size="6.4" text-anchor="end" font-weight="normal" fill="#1a1a1a"  stroke="#1a1a1a" stroke-width="0.14">30</text>
<line x1="311.50" y1="337.97" x2="314.50" y2="337.97" stroke="#000" stroke-width="0.95" />
<text x="308.30" y="340.27" font-size="6.4" text-anchor="end" font-weight="normal" fill="#1a1a1a"  stroke="#1a1a1a" stroke-width="0.14">35</text>
<line x1="314.50" y1="420.50" x2="314.50" y2="423.50" stroke="#000" stroke-width="0.95" />
<line x1="340.00" y1="420.50" x2="340.00" y2="423.50" stroke="#000" stroke-width="0.95" />
<line x1="365.75" y1="420.50" x2="365.75" y2="423.50" stroke="#000" stroke-width="0.95" />
<line x1="327.25" y1="344.25" x2="327.25" y2="367.50" stroke="#000" stroke-width="0.95" />
<line x1="326.10" y1="344.25" x2="328.40" y2="344.25" stroke="#000" stroke-width="0.95" />
<line x1="326.10" y1="367.50" x2="328.40" y2="367.50" stroke="#000" stroke-width="0.95" />
<line x1="352.90" y1="400.50" x2="352.90" y2="411.25" stroke="#000" stroke-width="0.95" />
<line x1="351.75" y1="400.50" x2="354.05" y2="400.50" stroke="#000" stroke-width="0.95" />
<line x1="351.75" y1="411.25" x2="354.05" y2="411.25" stroke="#000" stroke-width="0.95" />
<polyline points="327.00,342.20 327.00,339.70 353.00,339.70 353.00,342.20" fill="none" stroke="#000" stroke-width="0.95"/>
<text x="340.00" y="339.30" font-size="6" text-anchor="middle" font-weight="normal" fill="#1a1a1a"  stroke="#1a1a1a" stroke-width="0.14">**</text>
<text x="341.25" y="330.00" font-size="6.2" text-anchor="middle" font-weight="normal" fill="#1a1a1a"  stroke="#1a1a1a" stroke-width="0.14">%CD42/VWF</text>
<text x="327.50" y="432.50" font-size="6.4" text-anchor="middle" font-weight="normal" fill="#1a1a1a"  stroke="#1a1a1a" stroke-width="0.14">CHIR</text>
<text x="353.00" y="432.50" font-size="6.4" text-anchor="middle" font-weight="normal" fill="#1a1a1a"  stroke="#1a1a1a" stroke-width="0.14">DMSO</text>
<text transform="translate(294.90,419.50) rotate(-90)" font-size="7.8" fill="#1a1a1a" stroke="#1a1a1a" stroke-width="0.36" textLength="82.50" lengthAdjust="spacingAndGlyphs">% expression by flow cytometry</text>
<rect x="414.90" y="352.50" width="8.00" height="68.00" fill="#a40a2e" />
<rect x="440.80" y="404.50" width="8.00" height="16.00" fill="#6aaa42" />
<line x1="406.25" y1="336.25" x2="406.25" y2="421.10" stroke="#000" stroke-width="1.2" />
<line x1="405.65" y1="420.50" x2="460.50" y2="420.50" stroke="#000" stroke-width="1.2" />
<line x1="403.25" y1="420.50" x2="406.25" y2="420.50" stroke="#000" stroke-width="0.95" />
<text x="400.10" y="422.80" font-size="6.4" text-anchor="end" font-weight="normal" fill="#1a1a1a"  stroke="#1a1a1a" stroke-width="0.14">0</text>
<line x1="403.25" y1="406.92" x2="406.25" y2="406.92" stroke="#000" stroke-width="0.95" />
<text x="400.10" y="409.22" font-size="6.4" text-anchor="end" font-weight="normal" fill="#1a1a1a"  stroke="#1a1a1a" stroke-width="0.14">10</text>
<line x1="403.25" y1="393.34" x2="406.25" y2="393.34" stroke="#000" stroke-width="0.95" />
<text x="400.10" y="395.64" font-size="6.4" text-anchor="end" font-weight="normal" fill="#1a1a1a"  stroke="#1a1a1a" stroke-width="0.14">20</text>
<line x1="403.25" y1="379.76" x2="406.25" y2="379.76" stroke="#000" stroke-width="0.95" />
<text x="400.10" y="382.06" font-size="6.4" text-anchor="end" font-weight="normal" fill="#1a1a1a"  stroke="#1a1a1a" stroke-width="0.14">30</text>
<line x1="403.25" y1="366.18" x2="406.25" y2="366.18" stroke="#000" stroke-width="0.95" />
<text x="400.10" y="368.48" font-size="6.4" text-anchor="end" font-weight="normal" fill="#1a1a1a"  stroke="#1a1a1a" stroke-width="0.14">40</text>
<line x1="403.25" y1="352.60" x2="406.25" y2="352.60" stroke="#000" stroke-width="0.95" />
<text x="400.10" y="354.90" font-size="6.4" text-anchor="end" font-weight="normal" fill="#1a1a1a"  stroke="#1a1a1a" stroke-width="0.14">50</text>
<line x1="403.25" y1="339.02" x2="406.25" y2="339.02" stroke="#000" stroke-width="0.95" />
<text x="400.10" y="341.32" font-size="6.4" text-anchor="end" font-weight="normal" fill="#1a1a1a"  stroke="#1a1a1a" stroke-width="0.14">60</text>
<line x1="406.25" y1="420.50" x2="406.25" y2="423.50" stroke="#000" stroke-width="0.95" />
<line x1="432.00" y1="420.50" x2="432.00" y2="423.50" stroke="#000" stroke-width="0.95" />
<line x1="458.00" y1="420.50" x2="458.00" y2="423.50" stroke="#000" stroke-width="0.95" />
<line x1="419.10" y1="345.50" x2="419.10" y2="359.50" stroke="#000" stroke-width="0.95" />
<line x1="417.95" y1="345.50" x2="420.25" y2="345.50" stroke="#000" stroke-width="0.95" />
<line x1="417.95" y1="359.50" x2="420.25" y2="359.50" stroke="#000" stroke-width="0.95" />
<line x1="445.00" y1="402.50" x2="445.00" y2="406.50" stroke="#000" stroke-width="0.95" />
<line x1="443.85" y1="402.50" x2="446.15" y2="402.50" stroke="#000" stroke-width="0.95" />
<line x1="443.85" y1="406.50" x2="446.15" y2="406.50" stroke="#000" stroke-width="0.95" />
<polyline points="419.00,342.45 419.00,339.95 445.00,339.95 445.00,342.45" fill="none" stroke="#000" stroke-width="0.95"/>
<text x="432.00" y="339.50" font-size="6" text-anchor="middle" font-weight="normal" fill="#1a1a1a"  stroke="#1a1a1a" stroke-width="0.14">***</text>
<text x="432.00" y="330.00" font-size="6.2" text-anchor="middle" font-weight="normal" fill="#1a1a1a"  stroke="#1a1a1a" stroke-width="0.14">%CD42/CD9</text>
<text x="419.25" y="432.50" font-size="6.4" text-anchor="middle" font-weight="normal" fill="#1a1a1a"  stroke="#1a1a1a" stroke-width="0.14">CHIR</text>
<text x="445.00" y="432.50" font-size="6.4" text-anchor="middle" font-weight="normal" fill="#1a1a1a"  stroke="#1a1a1a" stroke-width="0.14">DMSO</text>
<text transform="translate(388.70,419.50) rotate(-90)" font-size="7.8" fill="#1a1a1a" stroke="#1a1a1a" stroke-width="0.36" textLength="82.50" lengthAdjust="spacingAndGlyphs">% expression by flow cytometry</text>
<text x="8.20" y="453.80" font-size="10" text-anchor="start" font-weight="bold" fill="#000"  stroke="#000" stroke-width="0.4">E</text>
<text x="163.00" y="454.40" font-size="7.8" text-anchor="start" font-weight="normal" fill="#1a1a1a" textLength="78.50" lengthAdjust="spacingAndGlyphs"  stroke="#1a1a1a" stroke-width="0.14">Marker of MK maturity</text>
<rect x="44.20" y="487.00" width="6.10" height="42.25" fill="#a40a2e" />
<rect x="69.70" y="487.00" width="6.10" height="42.25" fill="#6aaa42" />
<line x1="34.25" y1="470.50" x2="34.25" y2="529.85" stroke="#000" stroke-width="1.2" />
<line x1="33.65" y1="529.25" x2="88.00" y2="529.25" stroke="#000" stroke-width="1.2" />
<line x1="31.25" y1="529.25" x2="34.25" y2="529.25" stroke="#000" stroke-width="0.95" />
<text x="28.15" y="531.55" font-size="6.4" text-anchor="end" font-weight="normal" fill="#1a1a1a"  stroke="#1a1a1a" stroke-width="0.14">0</text>
<line x1="31.25" y1="519.83" x2="34.25" y2="519.83" stroke="#000" stroke-width="0.95" />
<text x="28.15" y="522.13" font-size="6.4" text-anchor="end" font-weight="normal" fill="#1a1a1a"  stroke="#1a1a1a" stroke-width="0.14">0.2</text>
<line x1="31.25" y1="510.41" x2="34.25" y2="510.41" stroke="#000" stroke-width="0.95" />
<text x="28.15" y="512.71" font-size="6.4" text-anchor="end" font-weight="normal" fill="#1a1a1a"  stroke="#1a1a1a" stroke-width="0.14">0.4</text>
<line x1="31.25" y1="500.99" x2="34.25" y2="500.99" stroke="#000" stroke-width="0.95" />
<text x="28.15" y="503.29" font-size="6.4" text-anchor="end" font-weight="normal" fill="#1a1a1a"  stroke="#1a1a1a" stroke-width="0.14">0.6</text>
<line x1="31.25" y1="491.57" x2="34.25" y2="491.57" stroke="#000" stroke-width="0.95" />
<text x="28.15" y="493.87" font-size="6.4" text-anchor="end" font-weight="normal" fill="#1a1a1a"  stroke="#1a1a1a" stroke-width="0.14">0.8</text>
<line x1="31.25" y1="482.15" x2="34.25" y2="482.15" stroke="#000" stroke-width="0.95" />
<text x="28.15" y="484.45" font-size="6.4" text-anchor="end" font-weight="normal" fill="#1a1a1a"  stroke="#1a1a1a" stroke-width="0.14">1</text>
<line x1="31.25" y1="472.73" x2="34.25" y2="472.73" stroke="#000" stroke-width="0.95" />
<text x="28.15" y="475.03" font-size="6.4" text-anchor="end" font-weight="normal" fill="#1a1a1a"  stroke="#1a1a1a" stroke-width="0.14">1.2</text>
<line x1="34.25" y1="529.25" x2="34.25" y2="532.25" stroke="#000" stroke-width="0.95" />
<line x1="60.00" y1="529.25" x2="60.00" y2="532.25" stroke="#000" stroke-width="0.95" />
<line x1="85.75" y1="529.25" x2="85.75" y2="532.25" stroke="#000" stroke-width="0.95" />
<line x1="47.25" y1="478.00" x2="47.25" y2="496.50" stroke="#000" stroke-width="0.95" />
<line x1="46.10" y1="478.00" x2="48.40" y2="478.00" stroke="#000" stroke-width="0.95" />
<line x1="46.10" y1="496.50" x2="48.40" y2="496.50" stroke="#000" stroke-width="0.95" />
<line x1="72.75" y1="478.00" x2="72.75" y2="496.50" stroke="#000" stroke-width="0.95" />
<line x1="71.60" y1="478.00" x2="73.90" y2="478.00" stroke="#000" stroke-width="0.95" />
<line x1="71.60" y1="496.50" x2="73.90" y2="496.50" stroke="#000" stroke-width="0.95" />
<polyline points="47.25,473.95 47.25,471.45 72.75,471.45 72.75,473.95" fill="none" stroke="#000" stroke-width="0.95"/>
<text x="60.00" y="469.50" font-size="6" text-anchor="middle" font-weight="normal" fill="#1a1a1a"  stroke="#1a1a1a" stroke-width="0.14">ns</text>
<text x="29.50" y="467.50" font-size="6.2" text-anchor="start" font-weight="normal" fill="#1a1a1a"  stroke="#1a1a1a" stroke-width="0.14">NFE2</text>
<text x="47.35" y="541.00" font-size="6.4" text-anchor="middle" font-weight="normal" fill="#1a1a1a"  stroke="#1a1a1a" stroke-width="0.14">CHIR</text>
<text x="72.65" y="541.00" font-size="6.4" text-anchor="middle" font-weight="normal" fill="#1a1a1a"  stroke="#1a1a1a" stroke-width="0.14">DMSO</text>
<text transform="translate(14.20,525.00) rotate(-90)" font-size="7.8" fill="#1a1a1a" stroke="#1a1a1a" stroke-width="0.36" textLength="50.00" lengthAdjust="spacingAndGlyphs">Relative to PB-MKs</text>
<rect x="135.45" y="497.00" width="6.10" height="32.00" fill="#a40a2e" />
<rect x="160.95" y="525.00" width="6.10" height="4.00" fill="#6aaa42" />
<line x1="125.50" y1="470.00" x2="125.50" y2="529.60" stroke="#000" stroke-width="1.2" />
<line x1="124.90" y1="529.00" x2="179.25" y2="529.00" stroke="#000" stroke-width="1.2" />
<line x1="122.50" y1="529.00" x2="125.50" y2="529.00" stroke="#000" stroke-width="0.95" />
<text x="119.40" y="531.30" font-size="6.4" text-anchor="end" font-weight="normal" fill="#1a1a1a"  stroke="#1a1a1a" stroke-width="0.14">0</text>
<line x1="122.50" y1="514.88" x2="125.50" y2="514.88" stroke="#000" stroke-width="0.95" />
<text x="119.40" y="517.17" font-size="6.4" text-anchor="end" font-weight="normal" fill="#1a1a1a"  stroke="#1a1a1a" stroke-width="0.14">0.05</text>
<line x1="122.50" y1="500.75" x2="125.50" y2="500.75" stroke="#000" stroke-width="0.95" />
<text x="119.40" y="503.05" font-size="6.4" text-anchor="end" font-weight="normal" fill="#1a1a1a"  stroke="#1a1a1a" stroke-width="0.14">0.1</text>
<line x1="122.50" y1="486.62" x2="125.50" y2="486.62" stroke="#000" stroke-width="0.95" />
<text x="119.40" y="488.93" font-size="6.4" text-anchor="end" font-weight="normal" fill="#1a1a1a"  stroke="#1a1a1a" stroke-width="0.14">0.15</text>
<line x1="122.50" y1="472.50" x2="125.50" y2="472.50" stroke="#000" stroke-width="0.95" />
<text x="119.40" y="474.80" font-size="6.4" text-anchor="end" font-weight="normal" fill="#1a1a1a"  stroke="#1a1a1a" stroke-width="0.14">0.2</text>
<line x1="125.50" y1="529.00" x2="125.50" y2="532.00" stroke="#000" stroke-width="0.95" />
<line x1="151.25" y1="529.00" x2="151.25" y2="532.00" stroke="#000" stroke-width="0.95" />
<line x1="177.00" y1="529.00" x2="177.00" y2="532.00" stroke="#000" stroke-width="0.95" />
<line x1="138.50" y1="483.00" x2="138.50" y2="510.50" stroke="#000" stroke-width="0.95" />
<line x1="137.35" y1="483.00" x2="139.65" y2="483.00" stroke="#000" stroke-width="0.95" />
<line x1="137.35" y1="510.50" x2="139.65" y2="510.50" stroke="#000" stroke-width="0.95" />
<line x1="164.00" y1="522.50" x2="164.00" y2="527.50" stroke="#000" stroke-width="0.95" />
<line x1="162.85" y1="522.50" x2="165.15" y2="522.50" stroke="#000" stroke-width="0.95" />
<line x1="162.85" y1="527.50" x2="165.15" y2="527.50" stroke="#000" stroke-width="0.95" />
<polyline points="138.50,473.95 138.50,471.45 164.00,471.45 164.00,473.95" fill="none" stroke="#000" stroke-width="0.95"/>
<text x="151.25" y="468.80" font-size="6" text-anchor="middle" font-weight="normal" fill="#1a1a1a"  stroke="#1a1a1a" stroke-width="0.14">ns</text>
<text x="119.50" y="467.00" font-size="6.2" text-anchor="start" font-weight="normal" fill="#1a1a1a"  stroke="#1a1a1a" stroke-width="0.14">ITGA2</text>
<text x="138.60" y="540.80" font-size="6.4" text-anchor="middle" font-weight="normal" fill="#1a1a1a"  stroke="#1a1a1a" stroke-width="0.14">CHIR</text>
<text x="163.90" y="540.80" font-size="6.4" text-anchor="middle" font-weight="normal" fill="#1a1a1a"  stroke="#1a1a1a" stroke-width="0.14">DMSO</text>
<text transform="translate(100.40,525.00) rotate(-90)" font-size="7.8" fill="#1a1a1a" stroke="#1a1a1a" stroke-width="0.36" textLength="50.00" lengthAdjust="spacingAndGlyphs">Relative to PB-MKs</text>
<rect x="226.20" y="481.75" width="6.10" height="47.25" fill="#a40a2e" />
<rect x="251.70" y="498.25" width="6.10" height="30.75" fill="#6aaa42" />
<line x1="216.25" y1="470.00" x2="216.25" y2="529.60" stroke="#000" stroke-width="1.2" />
<line x1="215.65" y1="529.00" x2="270.00" y2="529.00" stroke="#000" stroke-width="1.2" />
<line x1="213.25" y1="529.00" x2="216.25" y2="529.00" stroke="#000" stroke-width="0.95" />
<text x="210.15" y="531.30" font-size="6.4" text-anchor="end" font-weight="normal" fill="#1a1a1a"  stroke="#1a1a1a" stroke-width="0.14">0</text>
<line x1="213.25" y1="519.58" x2="216.25" y2="519.58" stroke="#000" stroke-width="0.95" />
<text x="210.15" y="521.88" font-size="6.4" text-anchor="end" font-weight="normal" fill="#1a1a1a"  stroke="#1a1a1a" stroke-width="0.14">0.1</text>
<line x1="213.25" y1="510.16" x2="216.25" y2="510.16" stroke="#000" stroke-width="0.95" />
<text x="210.15" y="512.46" font-size="6.4" text-anchor="end" font-weight="normal" fill="#1a1a1a"  stroke="#1a1a1a" stroke-width="0.14">0.2</text>
<line x1="213.25" y1="500.74" x2="216.25" y2="500.74" stroke="#000" stroke-width="0.95" />
<text x="210.15" y="503.04" font-size="6.4" text-anchor="end" font-weight="normal" fill="#1a1a1a"  stroke="#1a1a1a" stroke-width="0.14">0.3</text>
<line x1="213.25" y1="491.32" x2="216.25" y2="491.32" stroke="#000" stroke-width="0.95" />
<text x="210.15" y="493.62" font-size="6.4" text-anchor="end" font-weight="normal" fill="#1a1a1a"  stroke="#1a1a1a" stroke-width="0.14">0.4</text>
<line x1="213.25" y1="481.90" x2="216.25" y2="481.90" stroke="#000" stroke-width="0.95" />
<text x="210.15" y="484.20" font-size="6.4" text-anchor="end" font-weight="normal" fill="#1a1a1a"  stroke="#1a1a1a" stroke-width="0.14">0.5</text>
<line x1="213.25" y1="472.48" x2="216.25" y2="472.48" stroke="#000" stroke-width="0.95" />
<text x="210.15" y="474.78" font-size="6.4" text-anchor="end" font-weight="normal" fill="#1a1a1a"  stroke="#1a1a1a" stroke-width="0.14">0.6</text>
<line x1="216.25" y1="529.00" x2="216.25" y2="532.00" stroke="#000" stroke-width="0.95" />
<line x1="242.00" y1="529.00" x2="242.00" y2="532.00" stroke="#000" stroke-width="0.95" />
<line x1="267.75" y1="529.00" x2="267.75" y2="532.00" stroke="#000" stroke-width="0.95" />
<line x1="229.25" y1="474.25" x2="229.25" y2="489.25" stroke="#000" stroke-width="0.95" />
<line x1="228.10" y1="474.25" x2="230.40" y2="474.25" stroke="#000" stroke-width="0.95" />
<line x1="228.10" y1="489.25" x2="230.40" y2="489.25" stroke="#000" stroke-width="0.95" />
<line x1="254.75" y1="488.00" x2="254.75" y2="508.75" stroke="#000" stroke-width="0.95" />
<line x1="253.60" y1="488.00" x2="255.90" y2="488.00" stroke="#000" stroke-width="0.95" />
<line x1="253.60" y1="508.75" x2="255.90" y2="508.75" stroke="#000" stroke-width="0.95" />
<polyline points="229.25,473.70 229.25,471.20 254.75,471.20 254.75,473.70" fill="none" stroke="#000" stroke-width="0.95"/>
<text x="242.00" y="470.20" font-size="6" text-anchor="middle" font-weight="normal" fill="#1a1a1a"  stroke="#1a1a1a" stroke-width="0.14">*</text>
<text x="213.00" y="467.00" font-size="6.2" text-anchor="start" font-weight="normal" fill="#1a1a1a"  stroke="#1a1a1a" stroke-width="0.14">DKK</text>
<text x="229.35" y="540.80" font-size="6.4" text-anchor="middle" font-weight="normal" fill="#1a1a1a"  stroke="#1a1a1a" stroke-width="0.14">CHIR</text>
<text x="254.65" y="540.80" font-size="6.4" text-anchor="middle" font-weight="normal" fill="#1a1a1a"  stroke="#1a1a1a" stroke-width="0.14">DMSO</text>
<text transform="translate(196.20,525.00) rotate(-90)" font-size="7.8" fill="#1a1a1a" stroke="#1a1a1a" stroke-width="0.36" textLength="50.00" lengthAdjust="spacingAndGlyphs">Relative to PB-MKs</text>
<rect x="320.45" y="486.75" width="6.10" height="42.25" fill="#a40a2e" />
<rect x="345.95" y="526.75" width="6.10" height="2.25" fill="#6aaa42" />
<line x1="310.50" y1="470.00" x2="310.50" y2="529.60" stroke="#000" stroke-width="1.2" />
<line x1="309.90" y1="529.00" x2="365.00" y2="529.00" stroke="#000" stroke-width="1.2" />
<line x1="307.50" y1="529.00" x2="310.50" y2="529.00" stroke="#000" stroke-width="0.95" />
<text x="304.40" y="531.30" font-size="6.4" text-anchor="end" font-weight="normal" fill="#1a1a1a"  stroke="#1a1a1a" stroke-width="0.14">0</text>
<line x1="307.50" y1="519.58" x2="310.50" y2="519.58" stroke="#000" stroke-width="0.95" />
<text x="304.40" y="521.88" font-size="6.4" text-anchor="end" font-weight="normal" fill="#1a1a1a"  stroke="#1a1a1a" stroke-width="0.14">0.25</text>
<line x1="307.50" y1="510.16" x2="310.50" y2="510.16" stroke="#000" stroke-width="0.95" />
<text x="304.40" y="512.46" font-size="6.4" text-anchor="end" font-weight="normal" fill="#1a1a1a"  stroke="#1a1a1a" stroke-width="0.14">0.5</text>
<line x1="307.50" y1="500.74" x2="310.50" y2="500.74" stroke="#000" stroke-width="0.95" />
<text x="304.40" y="503.04" font-size="6.4" text-anchor="end" font-weight="normal" fill="#1a1a1a"  stroke="#1a1a1a" stroke-width="0.14">0.75</text>
<line x1="307.50" y1="491.32" x2="310.50" y2="491.32" stroke="#000" stroke-width="0.95" />
<text x="304.40" y="493.62" font-size="6.4" text-anchor="end" font-weight="normal" fill="#1a1a1a"  stroke="#1a1a1a" stroke-width="0.14">1</text>
<line x1="307.50" y1="481.90" x2="310.50" y2="481.90" stroke="#000" stroke-width="0.95" />
<text x="304.40" y="484.20" font-size="6.4" text-anchor="end" font-weight="normal" fill="#1a1a1a"  stroke="#1a1a1a" stroke-width="0.14">1.25</text>
<line x1="307.50" y1="472.48" x2="310.50" y2="472.48" stroke="#000" stroke-width="0.95" />
<text x="304.40" y="474.78" font-size="6.4" text-anchor="end" font-weight="normal" fill="#1a1a1a"  stroke="#1a1a1a" stroke-width="0.14">1.5</text>
<line x1="310.50" y1="529.00" x2="310.50" y2="532.00" stroke="#000" stroke-width="0.95" />
<line x1="336.25" y1="529.00" x2="336.25" y2="532.00" stroke="#000" stroke-width="0.95" />
<line x1="362.00" y1="529.00" x2="362.00" y2="532.00" stroke="#000" stroke-width="0.95" />
<line x1="323.50" y1="477.00" x2="323.50" y2="496.50" stroke="#000" stroke-width="0.95" />
<line x1="322.35" y1="477.00" x2="324.65" y2="477.00" stroke="#000" stroke-width="0.95" />
<line x1="322.35" y1="496.50" x2="324.65" y2="496.50" stroke="#000" stroke-width="0.95" />
<line x1="349.00" y1="524.50" x2="349.00" y2="528.50" stroke="#000" stroke-width="0.95" />
<line x1="347.85" y1="524.50" x2="350.15" y2="524.50" stroke="#000" stroke-width="0.95" />
<line x1="347.85" y1="528.50" x2="350.15" y2="528.50" stroke="#000" stroke-width="0.95" />
<polyline points="323.50,473.70 323.50,471.20 349.00,471.20 349.00,473.70" fill="none" stroke="#000" stroke-width="0.95"/>
<text x="336.25" y="470.40" font-size="6" text-anchor="middle" font-weight="normal" fill="#1a1a1a"  stroke="#1a1a1a" stroke-width="0.14">**</text>
<text x="307.00" y="467.00" font-size="6.2" text-anchor="start" font-weight="normal" fill="#1a1a1a"  stroke="#1a1a1a" stroke-width="0.14">VWF</text>
<text x="323.60" y="540.80" font-size="6.4" text-anchor="middle" font-weight="normal" fill="#1a1a1a"  stroke="#1a1a1a" stroke-width="0.14">CHIR</text>
<text x="348.90" y="540.80" font-size="6.4" text-anchor="middle" font-weight="normal" fill="#1a1a1a"  stroke="#1a1a1a" stroke-width="0.14">DMSO</text>
<text transform="translate(286.60,525.00) rotate(-90)" font-size="7.8" fill="#1a1a1a" stroke="#1a1a1a" stroke-width="0.36" textLength="50.00" lengthAdjust="spacingAndGlyphs">Relative to PB-MKs</text>
<rect x="44.20" y="575.50" width="6.10" height="40.75" fill="#a40a2e" />
<rect x="69.70" y="598.75" width="6.10" height="17.50" fill="#6aaa42" />
<line x1="34.25" y1="557.00" x2="34.25" y2="616.85" stroke="#000" stroke-width="1.2" />
<line x1="33.65" y1="616.25" x2="88.00" y2="616.25" stroke="#000" stroke-width="1.2" />
<line x1="31.25" y1="616.25" x2="34.25" y2="616.25" stroke="#000" stroke-width="0.95" />
<text x="28.15" y="618.55" font-size="6.4" text-anchor="end" font-weight="normal" fill="#1a1a1a"  stroke="#1a1a1a" stroke-width="0.14">0</text>
<line x1="31.25" y1="604.90" x2="34.25" y2="604.90" stroke="#000" stroke-width="0.95" />
<text x="28.15" y="607.20" font-size="6.4" text-anchor="end" font-weight="normal" fill="#1a1a1a"  stroke="#1a1a1a" stroke-width="0.14">0.1</text>
<line x1="31.25" y1="593.55" x2="34.25" y2="593.55" stroke="#000" stroke-width="0.95" />
<text x="28.15" y="595.85" font-size="6.4" text-anchor="end" font-weight="normal" fill="#1a1a1a"  stroke="#1a1a1a" stroke-width="0.14">0.2</text>
<line x1="31.25" y1="582.20" x2="34.25" y2="582.20" stroke="#000" stroke-width="0.95" />
<text x="28.15" y="584.50" font-size="6.4" text-anchor="end" font-weight="normal" fill="#1a1a1a"  stroke="#1a1a1a" stroke-width="0.14">0.3</text>
<line x1="31.25" y1="570.85" x2="34.25" y2="570.85" stroke="#000" stroke-width="0.95" />
<text x="28.15" y="573.15" font-size="6.4" text-anchor="end" font-weight="normal" fill="#1a1a1a"  stroke="#1a1a1a" stroke-width="0.14">0.4</text>
<line x1="31.25" y1="559.50" x2="34.25" y2="559.50" stroke="#000" stroke-width="0.95" />
<text x="28.15" y="561.80" font-size="6.4" text-anchor="end" font-weight="normal" fill="#1a1a1a"  stroke="#1a1a1a" stroke-width="0.14">0.5</text>
<line x1="34.25" y1="616.25" x2="34.25" y2="619.25" stroke="#000" stroke-width="0.95" />
<line x1="60.00" y1="616.25" x2="60.00" y2="619.25" stroke="#000" stroke-width="0.95" />
<line x1="85.75" y1="616.25" x2="85.75" y2="619.25" stroke="#000" stroke-width="0.95" />
<line x1="47.25" y1="571.50" x2="47.25" y2="579.50" stroke="#000" stroke-width="0.95" />
<line x1="46.10" y1="571.50" x2="48.40" y2="571.50" stroke="#000" stroke-width="0.95" />
<line x1="46.10" y1="579.50" x2="48.40" y2="579.50" stroke="#000" stroke-width="0.95" />
<line x1="72.75" y1="593.50" x2="72.75" y2="603.50" stroke="#000" stroke-width="0.95" />
<line x1="71.60" y1="593.50" x2="73.90" y2="593.50" stroke="#000" stroke-width="0.95" />
<line x1="71.60" y1="603.50" x2="73.90" y2="603.50" stroke="#000" stroke-width="0.95" />
<polyline points="47.25,568.70 47.25,566.20 72.75,566.20 72.75,568.70" fill="none" stroke="#000" stroke-width="0.95"/>
<text x="60.00" y="566.00" font-size="6" text-anchor="middle" font-weight="normal" fill="#1a1a1a"  stroke="#1a1a1a" stroke-width="0.14">***</text>
<text x="27.00" y="554.30" font-size="6.2" text-anchor="start" font-weight="normal" fill="#1a1a1a"  stroke="#1a1a1a" stroke-width="0.14">STAT5a</text>
<text x="47.35" y="628.00" font-size="6.4" text-anchor="middle" font-weight="normal" fill="#1a1a1a"  stroke="#1a1a1a" stroke-width="0.14">CHIR</text>
<text x="72.65" y="628.00" font-size="6.4" text-anchor="middle" font-weight="normal" fill="#1a1a1a"  stroke="#1a1a1a" stroke-width="0.14">DMSO</text>
<text transform="translate(14.20,612.00) rotate(-90)" font-size="7.8" fill="#1a1a1a" stroke="#1a1a1a" stroke-width="0.36" textLength="50.00" lengthAdjust="spacingAndGlyphs">Relative to PB-MKs</text>
<rect x="135.45" y="582.50" width="6.10" height="33.60" fill="#a40a2e" />
<rect x="160.95" y="606.25" width="6.10" height="9.85" fill="#6aaa42" />
<line x1="125.50" y1="557.00" x2="125.50" y2="616.70" stroke="#000" stroke-width="1.2" />
<line x1="124.90" y1="616.10" x2="179.25" y2="616.10" stroke="#000" stroke-width="1.2" />
<line x1="122.50" y1="616.10" x2="125.50" y2="616.10" stroke="#000" stroke-width="0.95" />
<text x="119.40" y="618.40" font-size="6.4" text-anchor="end" font-weight="normal" fill="#1a1a1a"  stroke="#1a1a1a" stroke-width="0.14">0</text>
<line x1="122.50" y1="597.25" x2="125.50" y2="597.25" stroke="#000" stroke-width="0.95" />
<text x="119.40" y="599.55" font-size="6.4" text-anchor="end" font-weight="normal" fill="#1a1a1a"  stroke="#1a1a1a" stroke-width="0.14">0.5</text>
<line x1="122.50" y1="578.40" x2="125.50" y2="578.40" stroke="#000" stroke-width="0.95" />
<text x="119.40" y="580.70" font-size="6.4" text-anchor="end" font-weight="normal" fill="#1a1a1a"  stroke="#1a1a1a" stroke-width="0.14">1</text>
<line x1="122.50" y1="559.55" x2="125.50" y2="559.55" stroke="#000" stroke-width="0.95" />
<text x="119.40" y="561.85" font-size="6.4" text-anchor="end" font-weight="normal" fill="#1a1a1a"  stroke="#1a1a1a" stroke-width="0.14">1.5</text>
<line x1="125.50" y1="616.10" x2="125.50" y2="619.10" stroke="#000" stroke-width="0.95" />
<line x1="151.25" y1="616.10" x2="151.25" y2="619.10" stroke="#000" stroke-width="0.95" />
<line x1="177.00" y1="616.10" x2="177.00" y2="619.10" stroke="#000" stroke-width="0.95" />
<line x1="138.50" y1="566.25" x2="138.50" y2="598.75" stroke="#000" stroke-width="0.95" />
<line x1="137.35" y1="566.25" x2="139.65" y2="566.25" stroke="#000" stroke-width="0.95" />
<line x1="137.35" y1="598.75" x2="139.65" y2="598.75" stroke="#000" stroke-width="0.95" />
<line x1="164.00" y1="603.00" x2="164.00" y2="610.50" stroke="#000" stroke-width="0.95" />
<line x1="162.85" y1="603.00" x2="165.15" y2="603.00" stroke="#000" stroke-width="0.95" />
<line x1="162.85" y1="610.50" x2="165.15" y2="610.50" stroke="#000" stroke-width="0.95" />
<polyline points="138.50,564.70 138.50,562.20 164.00,562.20 164.00,564.70" fill="none" stroke="#000" stroke-width="0.95"/>
<text x="151.25" y="560.00" font-size="6" text-anchor="middle" font-weight="normal" fill="#1a1a1a"  stroke="#1a1a1a" stroke-width="0.14">ns</text>
<text x="118.00" y="553.80" font-size="6.2" text-anchor="start" font-weight="normal" fill="#1a1a1a"  stroke="#1a1a1a" stroke-width="0.14">HOXA9</text>
<text x="138.60" y="627.60" font-size="6.4" text-anchor="middle" font-weight="normal" fill="#1a1a1a"  stroke="#1a1a1a" stroke-width="0.14">CHIR</text>
<text x="163.90" y="627.60" font-size="6.4" text-anchor="middle" font-weight="normal" fill="#1a1a1a"  stroke="#1a1a1a" stroke-width="0.14">DMSO</text>
<text transform="translate(105.40,612.00) rotate(-90)" font-size="7.8" fill="#1a1a1a" stroke="#1a1a1a" stroke-width="0.36" textLength="50.00" lengthAdjust="spacingAndGlyphs">Relative to PB-MKs</text>
<rect x="226.20" y="576.50" width="6.10" height="39.60" fill="#a40a2e" />
<rect x="251.70" y="595.00" width="6.10" height="21.10" fill="#6aaa42" />
<line x1="216.25" y1="557.00" x2="216.25" y2="616.70" stroke="#000" stroke-width="1.2" />
<line x1="215.65" y1="616.10" x2="270.00" y2="616.10" stroke="#000" stroke-width="1.2" />
<line x1="213.25" y1="616.10" x2="216.25" y2="616.10" stroke="#000" stroke-width="0.95" />
<text x="210.15" y="618.40" font-size="6.4" text-anchor="end" font-weight="normal" fill="#1a1a1a"  stroke="#1a1a1a" stroke-width="0.14">0</text>
<line x1="213.25" y1="597.25" x2="216.25" y2="597.25" stroke="#000" stroke-width="0.95" />
<text x="210.15" y="599.55" font-size="6.4" text-anchor="end" font-weight="normal" fill="#1a1a1a"  stroke="#1a1a1a" stroke-width="0.14">0.5</text>
<line x1="213.25" y1="578.40" x2="216.25" y2="578.40" stroke="#000" stroke-width="0.95" />
<text x="210.15" y="580.70" font-size="6.4" text-anchor="end" font-weight="normal" fill="#1a1a1a"  stroke="#1a1a1a" stroke-width="0.14">1</text>
<line x1="213.25" y1="559.55" x2="216.25" y2="559.55" stroke="#000" stroke-width="0.95" />
<text x="210.15" y="561.85" font-size="6.4" text-anchor="end" font-weight="normal" fill="#1a1a1a"  stroke="#1a1a1a" stroke-width="0.14">1.5</text>
<line x1="216.25" y1="616.10" x2="216.25" y2="619.10" stroke="#000" stroke-width="0.95" />
<line x1="242.00" y1="616.10" x2="242.00" y2="619.10" stroke="#000" stroke-width="0.95" />
<line x1="267.75" y1="616.10" x2="267.75" y2="619.10" stroke="#000" stroke-width="0.95" />
<line x1="229.25" y1="573.25" x2="229.25" y2="579.50" stroke="#000" stroke-width="0.95" />
<line x1="228.10" y1="573.25" x2="230.40" y2="573.25" stroke="#000" stroke-width="0.95" />
<line x1="228.10" y1="579.50" x2="230.40" y2="579.50" stroke="#000" stroke-width="0.95" />
<line x1="254.75" y1="589.25" x2="254.75" y2="600.75" stroke="#000" stroke-width="0.95" />
<line x1="253.60" y1="589.25" x2="255.90" y2="589.25" stroke="#000" stroke-width="0.95" />
<line x1="253.60" y1="600.75" x2="255.90" y2="600.75" stroke="#000" stroke-width="0.95" />
<polyline points="229.25,571.20 229.25,568.70 254.75,568.70 254.75,571.20" fill="none" stroke="#000" stroke-width="0.95"/>
<text x="242.00" y="566.30" font-size="6" text-anchor="middle" font-weight="normal" fill="#1a1a1a"  stroke="#1a1a1a" stroke-width="0.14">ns</text>
<text x="208.75" y="553.80" font-size="6.2" text-anchor="start" font-weight="normal" fill="#1a1a1a"  stroke="#1a1a1a" stroke-width="0.14">GP1BB</text>
<text x="229.35" y="627.60" font-size="6.4" text-anchor="middle" font-weight="normal" fill="#1a1a1a"  stroke="#1a1a1a" stroke-width="0.14">CHIR</text>
<text x="254.65" y="627.60" font-size="6.4" text-anchor="middle" font-weight="normal" fill="#1a1a1a"  stroke="#1a1a1a" stroke-width="0.14">DMSO</text>
<text transform="translate(196.20,612.00) rotate(-90)" font-size="7.8" fill="#1a1a1a" stroke="#1a1a1a" stroke-width="0.36" textLength="50.00" lengthAdjust="spacingAndGlyphs">Relative to PB-MKs</text>
<rect x="283.25" y="545.5" width="86" height="85" fill="none" stroke="#111" stroke-width="0.8"/>
<rect x="320.70" y="590.75" width="6.10" height="25.35" fill="#a40a2e" />
<rect x="346.20" y="574.50" width="6.10" height="41.60" fill="#6aaa42" />
<line x1="310.75" y1="556.50" x2="310.75" y2="616.70" stroke="#000" stroke-width="1.2" />
<line x1="310.15" y1="616.10" x2="364.50" y2="616.10" stroke="#000" stroke-width="1.2" />
<line x1="307.75" y1="616.10" x2="310.75" y2="616.10" stroke="#000" stroke-width="0.95" />
<text x="304.65" y="618.40" font-size="6.4" text-anchor="end" font-weight="normal" fill="#1a1a1a"  stroke="#1a1a1a" stroke-width="0.14">0</text>
<line x1="307.75" y1="607.99" x2="310.75" y2="607.99" stroke="#000" stroke-width="0.95" />
<text x="304.65" y="610.29" font-size="6.4" text-anchor="end" font-weight="normal" fill="#1a1a1a"  stroke="#1a1a1a" stroke-width="0.14">10</text>
<line x1="307.75" y1="599.89" x2="310.75" y2="599.89" stroke="#000" stroke-width="0.95" />
<text x="304.65" y="602.19" font-size="6.4" text-anchor="end" font-weight="normal" fill="#1a1a1a"  stroke="#1a1a1a" stroke-width="0.14">20</text>
<line x1="307.75" y1="591.78" x2="310.75" y2="591.78" stroke="#000" stroke-width="0.95" />
<text x="304.65" y="594.08" font-size="6.4" text-anchor="end" font-weight="normal" fill="#1a1a1a"  stroke="#1a1a1a" stroke-width="0.14">30</text>
<line x1="307.75" y1="583.67" x2="310.75" y2="583.67" stroke="#000" stroke-width="0.95" />
<text x="304.65" y="585.97" font-size="6.4" text-anchor="end" font-weight="normal" fill="#1a1a1a"  stroke="#1a1a1a" stroke-width="0.14">40</text>
<line x1="307.75" y1="575.57" x2="310.75" y2="575.57" stroke="#000" stroke-width="0.95" />
<text x="304.65" y="577.87" font-size="6.4" text-anchor="end" font-weight="normal" fill="#1a1a1a"  stroke="#1a1a1a" stroke-width="0.14">50</text>
<line x1="307.75" y1="567.46" x2="310.75" y2="567.46" stroke="#000" stroke-width="0.95" />
<text x="304.65" y="569.76" font-size="6.4" text-anchor="end" font-weight="normal" fill="#1a1a1a"  stroke="#1a1a1a" stroke-width="0.14">60</text>
<line x1="307.75" y1="559.35" x2="310.75" y2="559.35" stroke="#000" stroke-width="0.95" />
<text x="304.65" y="561.65" font-size="6.4" text-anchor="end" font-weight="normal" fill="#1a1a1a"  stroke="#1a1a1a" stroke-width="0.14">70</text>
<line x1="310.75" y1="616.10" x2="310.75" y2="619.10" stroke="#000" stroke-width="0.95" />
<line x1="336.50" y1="616.10" x2="336.50" y2="619.10" stroke="#000" stroke-width="0.95" />
<line x1="362.25" y1="616.10" x2="362.25" y2="619.10" stroke="#000" stroke-width="0.95" />
<line x1="323.75" y1="583.25" x2="323.75" y2="598.00" stroke="#000" stroke-width="0.95" />
<line x1="322.60" y1="583.25" x2="324.90" y2="583.25" stroke="#000" stroke-width="0.95" />
<line x1="322.60" y1="598.00" x2="324.90" y2="598.00" stroke="#000" stroke-width="0.95" />
<line x1="349.25" y1="566.25" x2="349.25" y2="582.50" stroke="#000" stroke-width="0.95" />
<line x1="348.10" y1="566.25" x2="350.40" y2="566.25" stroke="#000" stroke-width="0.95" />
<line x1="348.10" y1="582.50" x2="350.40" y2="582.50" stroke="#000" stroke-width="0.95" />
<polyline points="323.75,565.45 323.75,562.95 349.25,562.95 349.25,565.45" fill="none" stroke="#000" stroke-width="0.95"/>
<text x="336.50" y="562.60" font-size="6" text-anchor="middle" font-weight="normal" fill="#1a1a1a"  stroke="#1a1a1a" stroke-width="0.14">**</text>
<text x="307.50" y="553.80" font-size="6.2" text-anchor="start" font-weight="normal" fill="#1a1a1a"  stroke="#1a1a1a" stroke-width="0.14">KDR</text>
<text x="323.85" y="627.60" font-size="6.4" text-anchor="middle" font-weight="normal" fill="#1a1a1a"  stroke="#1a1a1a" stroke-width="0.14">CHIR</text>
<text x="349.15" y="627.60" font-size="6.4" text-anchor="middle" font-weight="normal" fill="#1a1a1a"  stroke="#1a1a1a" stroke-width="0.14">DMSO</text>
<text transform="translate(292.90,612.00) rotate(-90)" font-size="7.8" fill="#1a1a1a" stroke="#1a1a1a" stroke-width="0.36" textLength="50.00" lengthAdjust="spacingAndGlyphs">Relative to PB-MKs</text>
<text x="326.25" y="638.80" font-size="6.2" text-anchor="middle" font-weight="normal" fill="#1a1a1a" textLength="60.00" lengthAdjust="spacingAndGlyphs"  stroke="#1a1a1a" stroke-width="0.14">Marker of fetal identity</text>
<defs>
<filter id="b03" x="-5%" y="-5%" width="110%" height="110%"><feGaussianBlur stdDeviation="0.35"/></filter>
<filter id="b05" x="-5%" y="-5%" width="110%" height="110%"><feGaussianBlur stdDeviation="0.55"/></filter>
<filter id="b1" x="-20%" y="-20%" width="140%" height="140%"><feGaussianBlur stdDeviation="1.1"/></filter>
<filter id="b2" x="-20%" y="-20%" width="140%" height="140%"><feGaussianBlur stdDeviation="2"/></filter>
<filter id="grain" x="0" y="0" width="100%" height="100%" color-interpolation-filters="sRGB">
 <feTurbulence type="fractalNoise" baseFrequency="0.42" numOctaves="2" seed="4" result="n"/>
 <feColorMatrix in="n" type="matrix" values="1 0 0 0 0  1 0 0 0 0  1 0 0 0 0  0 0 0 0 1" result="g"/>
 <feComposite in="SourceGraphic" in2="g" operator="arithmetic" k1="0" k2="1" k3="0.42" k4="-0.21" result="c"/>
 <feComposite in="c" in2="SourceGraphic" operator="in"/>
</filter>
<filter id="swirl" x="0" y="0" width="100%" height="100%" color-interpolation-filters="sRGB">
 <feTurbulence type="turbulence" baseFrequency="0.13" numOctaves="3" seed="11" result="n"/>
 <feColorMatrix in="n" type="matrix" values="2.2 0 0 0 0  2.2 0 0 0 0  2.2 0 0 0 0  0 0 0 0 1" result="g"/>
 <feTurbulence type="fractalNoise" baseFrequency="0.5" numOctaves="1" seed="2" result="n2"/>
 <feColorMatrix in="n2" type="matrix" values="1 0 0 0 0  1 0 0 0 0  1 0 0 0 0  0 0 0 0 1" result="g2"/>
 <feComponentTransfer in="g" result="gc"><feFuncR type="table" tableValues="0.36 0.47 0.56 0.63 0.69 0.74 0.78"/><feFuncG type="table" tableValues="0.36 0.47 0.56 0.63 0.69 0.74 0.78"/><feFuncB type="table" tableValues="0.36 0.47 0.56 0.63 0.69 0.74 0.78"/></feComponentTransfer>
 <feComposite in="gc" in2="g2" operator="arithmetic" k1="0" k2="1" k3="0.3" k4="-0.15" result="c"/>
 <feComposite in="c" in2="SourceGraphic" operator="in"/>
</filter>
<filter id="mott" x="0" y="0" width="100%" height="100%" color-interpolation-filters="sRGB">
 <feGaussianBlur in="SourceGraphic" stdDeviation="0.5" result="s"/>
 <feTurbulence type="fractalNoise" baseFrequency="0.3" numOctaves="2" seed="9" result="n"/>
 <feColorMatrix in="n" type="matrix" values="1 0 0 0 0  1 0 0 0 0  1 0 0 0 0  0 0 0 0 1" result="g"/>
 <feComposite in="s" in2="g" operator="arithmetic" k1="0" k2="1" k3="0.36" k4="-0.18"/>
</filter>
<clipPath id="cC1"><rect x="157.9" y="217.5" width="77.7" height="58.3"/></clipPath>
<clipPath id="cC2"><rect x="236.9" y="217.5" width="77" height="58.3"/></clipPath>
<clipPath id="cC3"><rect x="315.9" y="217.5" width="77.8" height="58.3"/></clipPath>
<clipPath id="cD1"><rect x="373.2" y="23.2" width="67.9" height="69"/></clipPath>
<clipPath id="cD2"><rect x="443.8" y="23.2" width="68.8" height="69"/></clipPath>
<clipPath id="cD3"><rect x="373.5" y="103" width="85.6" height="85"/></clipPath>
</defs>
<text x="155.30" y="210.50" font-size="10.5" text-anchor="start" font-weight="bold" fill="#000"  stroke="#000" stroke-width="0.4">C</text>
<text x="194.80" y="215.50" font-size="8.2" text-anchor="middle" font-weight="normal" fill="#111"  stroke="#111" stroke-width="0.14">AMK</text>
<text x="274.90" y="215.50" font-size="8.2" text-anchor="middle" font-weight="normal" fill="#111"  stroke="#111" stroke-width="0.14">CHIR</text>
<text x="353.60" y="215.50" font-size="8.2" text-anchor="middle" font-weight="normal" fill="#111"  stroke="#111" stroke-width="0.14">DMSO</text>
<g clip-path="url(#cC1)">
<rect x="157.90" y="217.50" width="77.70" height="58.30" fill="#b0a6dc" />
<g filter="url(#mott)">
<circle cx="183.3" cy="226.7" r="3.30" fill="#d6ccf0" opacity="0.6"/>
<circle cx="163.7" cy="249.1" r="2.73" fill="#d6ccf0" opacity="0.6"/>
<circle cx="162.5" cy="247.4" r="2.07" fill="#d6ccf0" opacity="0.6"/>
<circle cx="191.8" cy="222.1" r="2.18" fill="#d6ccf0" opacity="0.6"/>
<circle cx="191.1" cy="266.0" r="2.25" fill="#d6ccf0" opacity="0.6"/>
<circle cx="175.4" cy="254.4" r="3.90" fill="#d6ccf0" opacity="0.6"/>
<circle cx="203.0" cy="241.0" r="3.95" fill="#d6ccf0" opacity="0.6"/>
<circle cx="161.6" cy="267.8" r="2.58" fill="#d6ccf0" opacity="0.6"/>
<circle cx="169.3" cy="224.8" r="2.62" fill="#d6ccf0" opacity="0.6"/>
<circle cx="221.7" cy="228.5" r="3.16" fill="#d6ccf0" opacity="0.6"/>
<circle cx="207.8" cy="239.6" r="3.10" fill="#d6ccf0" opacity="0.6"/>
<circle cx="162.9" cy="221.5" r="2.41" fill="#d6ccf0" opacity="0.6"/>
<circle cx="211.1" cy="242.8" r="2.63" fill="#d6ccf0" opacity="0.6"/>
<circle cx="203.7" cy="244.3" r="2.60" fill="#d6ccf0" opacity="0.6"/>
<circle cx="220.0" cy="258.5" r="2.49" fill="#d6ccf0" opacity="0.6"/>
<circle cx="202.8" cy="248.5" r="3.75" fill="#d6ccf0" opacity="0.6"/>
<circle cx="214.9" cy="234.7" r="4.95" fill="#6d5cb6" opacity="0.7"/>
<circle cx="167.2" cy="242.3" r="4.39" fill="#6d5cb6" opacity="0.7"/>
<circle cx="169.9" cy="246.4" r="2.60" fill="#6d5cb6" opacity="0.7"/>
<circle cx="210.1" cy="262.3" r="3.93" fill="#6d5cb6" opacity="0.7"/>
<circle cx="226.3" cy="236.2" r="4.24" fill="#6d5cb6" opacity="0.7"/>
<circle cx="204.4" cy="251.6" r="3.64" fill="#6d5cb6" opacity="0.7"/>
<circle cx="223.5" cy="272.8" r="3.69" fill="#6d5cb6" opacity="0.7"/>
<circle cx="209.8" cy="221.5" r="4.25" fill="#6d5cb6" opacity="0.7"/>
<circle cx="208.5" cy="275.6" r="4.55" fill="#6d5cb6" opacity="0.7"/>
<circle cx="180.2" cy="240.4" r="4.17" fill="#6d5cb6" opacity="0.7"/>
<circle cx="159.8" cy="244.8" r="2.92" fill="#6d5cb6" opacity="0.7"/>
<circle cx="167.1" cy="221.4" r="4.42" fill="#6d5cb6" opacity="0.7"/>
<circle cx="168.1" cy="232.4" r="3.48" fill="#6d5cb6" opacity="0.7"/>
<circle cx="226.0" cy="222.7" r="3.62" fill="#6d5cb6" opacity="0.7"/>
<circle cx="200.9" cy="269.2" r="4.55" fill="#6d5cb6" opacity="0.7"/>
<circle cx="225.4" cy="234.1" r="3.54" fill="#6d5cb6" opacity="0.7"/>
<circle cx="186.0" cy="269.3" r="4.89" fill="#6d5cb6" opacity="0.7"/>
<circle cx="169.8" cy="228.2" r="3.08" fill="#6d5cb6" opacity="0.7"/>
<circle cx="176.2" cy="246.1" r="3.97" fill="#6d5cb6" opacity="0.7"/>
<circle cx="178.5" cy="218.2" r="3.55" fill="#6d5cb6" opacity="0.7"/>
<circle cx="186.8" cy="250.8" r="4.88" fill="#6d5cb6" opacity="0.7"/>
<circle cx="211.9" cy="247.9" r="4.04" fill="#6d5cb6" opacity="0.7"/>
<circle cx="210.7" cy="221.1" r="4.75" fill="#6d5cb6" opacity="0.7"/>
<circle cx="218.8" cy="268.7" r="4.49" fill="#6d5cb6" opacity="0.7"/>
<circle cx="188.6" cy="241.1" r="2.76" fill="#6d5cb6" opacity="0.7"/>
<circle cx="207.5" cy="221.6" r="2.67" fill="#6d5cb6" opacity="0.7"/>
<circle cx="174.3" cy="227.4" r="3.35" fill="#6d5cb6" opacity="0.7"/>
<circle cx="162.1" cy="218.0" r="2.88" fill="#6d5cb6" opacity="0.7"/>
<circle cx="165.9" cy="239.1" r="2.56" fill="#6d5cb6" opacity="0.7"/>
<circle cx="226.2" cy="253.6" r="2.87" fill="#6d5cb6" opacity="0.7"/>
<circle cx="177.7" cy="238.1" r="3.41" fill="#6d5cb6" opacity="0.7"/>
<circle cx="167.6" cy="267.2" r="4.98" fill="#6d5cb6" opacity="0.7"/>
<circle cx="194.3" cy="246.1" r="2.71" fill="#6d5cb6" opacity="0.7"/>
<circle cx="166.0" cy="237.9" r="3.16" fill="#6d5cb6" opacity="0.7"/>
<circle cx="222.7" cy="227.4" r="2.56" fill="#6d5cb6" opacity="0.7"/>
<circle cx="232.2" cy="248.6" r="2.87" fill="#6d5cb6" opacity="0.7"/>
<circle cx="200.4" cy="219.6" r="3.82" fill="#6d5cb6" opacity="0.7"/>
<circle cx="234.3" cy="268.1" r="4.24" fill="#6d5cb6" opacity="0.7"/>
<circle cx="178.4" cy="239.3" r="2.92" fill="#6d5cb6" opacity="0.7"/>
<circle cx="218.2" cy="248.9" r="4.45" fill="#6d5cb6" opacity="0.7"/>
<circle cx="183.7" cy="230.9" r="4.53" fill="#6d5cb6" opacity="0.7"/>
<circle cx="234.8" cy="267.5" r="4.52" fill="#6d5cb6" opacity="0.7"/>
<circle cx="221.8" cy="260.9" r="3.07" fill="#6d5cb6" opacity="0.7"/>
<circle cx="198.4" cy="238.6" r="2.57" fill="#6d5cb6" opacity="0.7"/>
<circle cx="160.2" cy="234.2" r="1.69" fill="#4838a4" opacity="0.92"/>
<circle cx="212.0" cy="273.5" r="1.89" fill="#4838a4" opacity="0.92"/>
<circle cx="231.1" cy="275.3" r="2.45" fill="#4838a4" opacity="0.92"/>
<circle cx="186.4" cy="230.8" r="1.65" fill="#4838a4" opacity="0.92"/>
<circle cx="173.3" cy="229.9" r="2.09" fill="#4838a4" opacity="0.92"/>
<circle cx="228.2" cy="266.7" r="1.93" fill="#4838a4" opacity="0.92"/>
<circle cx="208.9" cy="264.4" r="1.49" fill="#4838a4" opacity="0.92"/>
<circle cx="209.5" cy="270.8" r="2.26" fill="#4838a4" opacity="0.92"/>
<circle cx="216.5" cy="245.7" r="1.60" fill="#4838a4" opacity="0.92"/>
<circle cx="219.6" cy="237.3" r="2.28" fill="#4838a4" opacity="0.92"/>
<circle cx="233.8" cy="241.0" r="1.84" fill="#4838a4" opacity="0.92"/>
<circle cx="231.9" cy="260.0" r="1.59" fill="#4838a4" opacity="0.92"/>
<circle cx="167.9" cy="226.8" r="2.40" fill="#4838a4" opacity="0.92"/>
<circle cx="220.9" cy="226.5" r="2.31" fill="#4838a4" opacity="0.92"/>
<circle cx="234.5" cy="256.1" r="1.79" fill="#4838a4" opacity="0.92"/>
<circle cx="200.8" cy="225.6" r="1.42" fill="#4838a4" opacity="0.92"/>
<circle cx="233.7" cy="255.7" r="1.98" fill="#4838a4" opacity="0.92"/>
<circle cx="230.8" cy="243.2" r="2.36" fill="#4838a4" opacity="0.92"/>
<circle cx="222.4" cy="230.2" r="1.68" fill="#4838a4" opacity="0.92"/>
<circle cx="180.9" cy="232.0" r="2.05" fill="#4838a4" opacity="0.92"/>
<circle cx="178.2" cy="242.3" r="1.54" fill="#4838a4" opacity="0.92"/>
<circle cx="229.0" cy="238.5" r="1.90" fill="#4838a4" opacity="0.92"/>
<circle cx="203.5" cy="270.4" r="1.86" fill="#4838a4" opacity="0.92"/>
<circle cx="229.6" cy="247.1" r="1.99" fill="#4838a4" opacity="0.92"/>
<circle cx="198.8" cy="219.1" r="1.88" fill="#4838a4" opacity="0.92"/>
<circle cx="172.3" cy="218.2" r="2.28" fill="#4838a4" opacity="0.92"/>
<circle cx="171.4" cy="245.5" r="2.20" fill="#4838a4" opacity="0.92"/>
<circle cx="201.4" cy="236.9" r="1.97" fill="#4838a4" opacity="0.92"/>
<circle cx="201.3" cy="263.5" r="1.52" fill="#4838a4" opacity="0.92"/>
<circle cx="201.7" cy="232.4" r="1.70" fill="#4838a4" opacity="0.92"/>
<circle cx="218.2" cy="247.4" r="2.02" fill="#4838a4" opacity="0.92"/>
<circle cx="217.3" cy="270.9" r="1.89" fill="#4838a4" opacity="0.92"/>
<circle cx="205.8" cy="247.3" r="1.96" fill="#4838a4" opacity="0.92"/>
<circle cx="212.0" cy="244.2" r="1.99" fill="#4838a4" opacity="0.92"/>
<circle cx="195.3" cy="272.6" r="2.17" fill="#4838a4" opacity="0.92"/>
<circle cx="226.4" cy="272.6" r="1.69" fill="#4838a4" opacity="0.92"/>
<circle cx="201.6" cy="272.7" r="2.32" fill="#4838a4" opacity="0.92"/>
<circle cx="168.7" cy="225.1" r="1.89" fill="#4838a4" opacity="0.92"/>
<circle cx="163.7" cy="232.0" r="1.48" fill="#4838a4" opacity="0.92"/>
<circle cx="210.2" cy="263.5" r="2.39" fill="#4838a4" opacity="0.92"/>
<circle cx="170.0" cy="259.5" r="2.13" fill="#4838a4" opacity="0.92"/>
<circle cx="169.2" cy="269.2" r="2.46" fill="#4838a4" opacity="0.92"/>
<circle cx="175.1" cy="273.2" r="1.84" fill="#4838a4" opacity="0.92"/>
<circle cx="196.0" cy="275.4" r="2.32" fill="#4838a4" opacity="0.92"/>
<circle cx="170.6" cy="243.0" r="1.97" fill="#4838a4" opacity="0.92"/>
<circle cx="184.5" cy="229.4" r="1.75" fill="#4838a4" opacity="0.92"/>
<circle cx="214.3" cy="219.1" r="2.01" fill="#4838a4" opacity="0.92"/>
<circle cx="192.4" cy="219.0" r="1.76" fill="#4838a4" opacity="0.92"/>
<circle cx="206.7" cy="247.7" r="1.47" fill="#4838a4" opacity="0.92"/>
<circle cx="234.8" cy="263.7" r="2.47" fill="#4838a4" opacity="0.92"/>
<circle cx="166.2" cy="233.4" r="1.44" fill="#4838a4" opacity="0.92"/>
<circle cx="218.8" cy="233.7" r="1.54" fill="#4838a4" opacity="0.92"/>
<circle cx="190.9" cy="270.9" r="2.30" fill="#4838a4" opacity="0.92"/>
<circle cx="178.2" cy="226.7" r="2.41" fill="#4838a4" opacity="0.92"/>
<circle cx="202.5" cy="258.6" r="1.50" fill="#4838a4" opacity="0.92"/>
<circle cx="162.5" cy="257.9" r="1.87" fill="#4838a4" opacity="0.92"/>
<circle cx="163.6" cy="272.4" r="2.10" fill="#4838a4" opacity="0.92"/>
<circle cx="220.5" cy="222.9" r="2.34" fill="#4838a4" opacity="0.92"/>
<circle cx="163.2" cy="268.0" r="1.90" fill="#4838a4" opacity="0.92"/>
<circle cx="184.5" cy="250.1" r="2.42" fill="#4838a4" opacity="0.92"/>
<circle cx="178.9" cy="225.5" r="1.98" fill="#4838a4" opacity="0.92"/>
<circle cx="176.6" cy="224.3" r="1.58" fill="#4838a4" opacity="0.92"/>
<circle cx="161.9" cy="229.7" r="1.74" fill="#4838a4" opacity="0.92"/>
<circle cx="181.8" cy="262.1" r="1.72" fill="#4838a4" opacity="0.92"/>
<circle cx="197.0" cy="228.3" r="1.78" fill="#4838a4" opacity="0.92"/>
<circle cx="159.4" cy="232.5" r="1.42" fill="#4838a4" opacity="0.92"/>
<circle cx="215.2" cy="250.0" r="1.61" fill="#4838a4" opacity="0.92"/>
<circle cx="195.0" cy="272.2" r="1.52" fill="#4838a4" opacity="0.92"/>
<circle cx="221.9" cy="243.1" r="1.94" fill="#4838a4" opacity="0.92"/>
<circle cx="223.1" cy="240.8" r="1.96" fill="#4838a4" opacity="0.92"/>
<circle cx="211.6" cy="275.0" r="1.78" fill="#4838a4" opacity="0.92"/>
<circle cx="222.9" cy="259.0" r="2.10" fill="#4838a4" opacity="0.92"/>
<circle cx="189.6" cy="238.2" r="1.46" fill="#4838a4" opacity="0.92"/>
<circle cx="168.1" cy="222.1" r="2.21" fill="#4838a4" opacity="0.92"/>
<circle cx="177.9" cy="227.5" r="1.49" fill="#4838a4" opacity="0.92"/>
<circle cx="223.6" cy="268.5" r="2.14" fill="#4838a4" opacity="0.92"/>
<circle cx="180.0" cy="232.0" r="1.72" fill="#4838a4" opacity="0.92"/>
<circle cx="193.8" cy="227.1" r="1.89" fill="#4838a4" opacity="0.92"/>
<circle cx="178.5" cy="273.8" r="2.47" fill="#4838a4" opacity="0.92"/>
<circle cx="200.7" cy="232.2" r="2.46" fill="#4838a4" opacity="0.92"/>
<circle cx="182.1" cy="238.7" r="1.40" fill="#4838a4" opacity="0.92"/>
<circle cx="187.8" cy="245.5" r="1.95" fill="#4838a4" opacity="0.92"/>
<circle cx="173.7" cy="247.3" r="1.41" fill="#4838a4" opacity="0.92"/>
<circle cx="178.6" cy="223.2" r="1.84" fill="#4838a4" opacity="0.92"/>
<circle cx="161.3" cy="219.3" r="1.73" fill="#4838a4" opacity="0.92"/>
<circle cx="176.2" cy="252.0" r="1.98" fill="#4838a4" opacity="0.92"/>
<circle cx="216.5" cy="256.1" r="2.19" fill="#4838a4" opacity="0.92"/>
<circle cx="226.6" cy="240.6" r="1.76" fill="#4838a4" opacity="0.92"/>
<circle cx="234.8" cy="226.7" r="2.20" fill="#4838a4" opacity="0.92"/>
<circle cx="208.2" cy="220.5" r="2.32" fill="#4838a4" opacity="0.92"/>
<circle cx="227.6" cy="254.4" r="2.21" fill="#4838a4" opacity="0.92"/>
<circle cx="221.4" cy="226.1" r="1.98" fill="#4838a4" opacity="0.92"/>
<circle cx="197.3" cy="266.4" r="2.29" fill="#4838a4" opacity="0.92"/>
<circle cx="222.5" cy="251.9" r="2.38" fill="#4838a4" opacity="0.92"/>
<circle cx="211.3" cy="258.2" r="1.65" fill="#4838a4" opacity="0.92"/>
<circle cx="160.4" cy="225.7" r="1.80" fill="#4838a4" opacity="0.92"/>
<circle cx="166.2" cy="266.5" r="2.01" fill="#4838a4" opacity="0.92"/>
<circle cx="207.0" cy="254.3" r="2.15" fill="#4838a4" opacity="0.92"/>
<circle cx="196.2" cy="218.2" r="2.28" fill="#4838a4" opacity="0.92"/>
<circle cx="216.4" cy="247.2" r="1.99" fill="#4838a4" opacity="0.92"/>
<circle cx="209.4" cy="221.8" r="2.21" fill="#4838a4" opacity="0.92"/>
<circle cx="177.7" cy="222.3" r="1.69" fill="#4838a4" opacity="0.92"/>
<circle cx="214.9" cy="229.9" r="2.21" fill="#4838a4" opacity="0.92"/>
<circle cx="234.1" cy="246.6" r="1.82" fill="#4838a4" opacity="0.92"/>
<circle cx="195.4" cy="257.7" r="2.24" fill="#4838a4" opacity="0.92"/>
<circle cx="206.1" cy="255.3" r="1.49" fill="#4838a4" opacity="0.92"/>
<circle cx="169.5" cy="232.7" r="2.22" fill="#4838a4" opacity="0.92"/>
<circle cx="181.7" cy="250.9" r="1.41" fill="#4838a4" opacity="0.92"/>
<circle cx="162.7" cy="233.6" r="2.14" fill="#4838a4" opacity="0.92"/>
<circle cx="212.0" cy="257.2" r="1.72" fill="#4838a4" opacity="0.92"/>
<circle cx="198.3" cy="245.0" r="1.91" fill="#4838a4" opacity="0.92"/>
<circle cx="167.2" cy="269.8" r="1.62" fill="#4838a4" opacity="0.92"/>
<circle cx="234.3" cy="272.3" r="1.42" fill="#4838a4" opacity="0.92"/>
<circle cx="193.8" cy="265.6" r="2.46" fill="#4838a4" opacity="0.92"/>
<circle cx="193.1" cy="233.6" r="1.63" fill="#4838a4" opacity="0.92"/>
<circle cx="231.8" cy="230.2" r="2.04" fill="#4838a4" opacity="0.92"/>
<circle cx="169.1" cy="248.4" r="2.45" fill="#4838a4" opacity="0.92"/>
<circle cx="168.3" cy="265.6" r="1.96" fill="#4838a4" opacity="0.92"/>
<circle cx="227.2" cy="258.8" r="1.65" fill="#4838a4" opacity="0.92"/>
<circle cx="228.0" cy="246.2" r="1.43" fill="#4838a4" opacity="0.92"/>
<circle cx="158.3" cy="246.5" r="1.90" fill="#4838a4" opacity="0.92"/>
<circle cx="181.6" cy="226.2" r="1.78" fill="#4838a4" opacity="0.92"/>
<circle cx="182.7" cy="266.7" r="1.40" fill="#4838a4" opacity="0.92"/>
<circle cx="216.6" cy="266.7" r="1.53" fill="#4838a4" opacity="0.92"/>
<circle cx="230.3" cy="259.4" r="2.39" fill="#4838a4" opacity="0.92"/>
<circle cx="180.6" cy="239.6" r="1.83" fill="#4838a4" opacity="0.92"/>
<circle cx="235.9" cy="252.2" r="1.80" fill="#4838a4" opacity="0.92"/>
<circle cx="191.4" cy="234.0" r="1.45" fill="#4838a4" opacity="0.92"/>
<circle cx="165.9" cy="266.4" r="1.71" fill="#4838a4" opacity="0.92"/>
<circle cx="231.0" cy="232.5" r="1.69" fill="#4838a4" opacity="0.92"/>
<circle cx="197.9" cy="229.0" r="1.81" fill="#4838a4" opacity="0.92"/>
<circle cx="232.6" cy="269.3" r="2.29" fill="#4838a4" opacity="0.92"/>
<circle cx="207.2" cy="271.0" r="2.43" fill="#4838a4" opacity="0.92"/>
<circle cx="200.8" cy="259.7" r="1.45" fill="#4838a4" opacity="0.92"/>
<circle cx="215.1" cy="244.1" r="2.23" fill="#4838a4" opacity="0.92"/>
<circle cx="208.3" cy="234.6" r="1.45" fill="#4838a4" opacity="0.92"/>
<circle cx="230.3" cy="225.4" r="1.92" fill="#4838a4" opacity="0.92"/>
<circle cx="184.8" cy="235.3" r="2.21" fill="#4838a4" opacity="0.92"/>
<circle cx="234.2" cy="233.1" r="2.12" fill="#4838a4" opacity="0.92"/>
<circle cx="181.5" cy="250.3" r="1.83" fill="#4838a4" opacity="0.92"/>
<circle cx="171.1" cy="227.4" r="1.63" fill="#4838a4" opacity="0.92"/>
<circle cx="228.7" cy="246.8" r="1.64" fill="#4838a4" opacity="0.92"/>
<circle cx="228.7" cy="275.8" r="1.89" fill="#4838a4" opacity="0.92"/>
<circle cx="168.9" cy="229.2" r="1.50" fill="#4838a4" opacity="0.92"/>
<circle cx="184.7" cy="223.3" r="1.66" fill="#4838a4" opacity="0.92"/>
<circle cx="178.2" cy="251.0" r="2.38" fill="#4838a4" opacity="0.92"/>
<circle cx="216.5" cy="241.9" r="1.86" fill="#4838a4" opacity="0.92"/>
<circle cx="198.9" cy="239.9" r="1.77" fill="#4838a4" opacity="0.92"/>
<circle cx="162.8" cy="234.1" r="2.46" fill="#4838a4" opacity="0.92"/>
<circle cx="167.8" cy="247.2" r="2.09" fill="#4838a4" opacity="0.92"/>
<circle cx="225.3" cy="230.5" r="1.04" fill="#ddd6f4" opacity="0.9"/>
<circle cx="177.4" cy="241.2" r="1.20" fill="#ddd6f4" opacity="0.9"/>
<circle cx="232.4" cy="267.2" r="1.59" fill="#ddd6f4" opacity="0.9"/>
<circle cx="159.7" cy="219.9" r="1.44" fill="#ddd6f4" opacity="0.9"/>
<circle cx="227.9" cy="245.4" r="1.33" fill="#ddd6f4" opacity="0.9"/>
<circle cx="158.0" cy="240.7" r="1.63" fill="#ddd6f4" opacity="0.9"/>
<circle cx="222.4" cy="267.6" r="1.68" fill="#ddd6f4" opacity="0.9"/>
<circle cx="177.4" cy="224.3" r="0.94" fill="#ddd6f4" opacity="0.9"/>
<circle cx="198.7" cy="257.6" r="1.65" fill="#ddd6f4" opacity="0.9"/>
<circle cx="214.3" cy="255.5" r="1.49" fill="#ddd6f4" opacity="0.9"/>
<circle cx="193.7" cy="250.0" r="0.84" fill="#ddd6f4" opacity="0.9"/>
<circle cx="219.0" cy="231.5" r="1.63" fill="#ddd6f4" opacity="0.9"/>
<circle cx="208.3" cy="235.6" r="0.92" fill="#ddd6f4" opacity="0.9"/>
<circle cx="177.6" cy="254.9" r="1.43" fill="#ddd6f4" opacity="0.9"/>
<circle cx="166.7" cy="222.1" r="1.27" fill="#ddd6f4" opacity="0.9"/>
<circle cx="203.5" cy="240.5" r="1.00" fill="#ddd6f4" opacity="0.9"/>
<circle cx="204.9" cy="218.6" r="1.07" fill="#ddd6f4" opacity="0.9"/>
<circle cx="193.9" cy="273.6" r="1.38" fill="#ddd6f4" opacity="0.9"/>
<circle cx="226.9" cy="245.6" r="1.01" fill="#ddd6f4" opacity="0.9"/>
<circle cx="177.3" cy="273.7" r="1.43" fill="#ddd6f4" opacity="0.9"/>
<circle cx="182.0" cy="219.3" r="1.25" fill="#ddd6f4" opacity="0.9"/>
<circle cx="210.6" cy="242.4" r="1.03" fill="#ddd6f4" opacity="0.9"/>
<circle cx="210.1" cy="271.7" r="1.00" fill="#ddd6f4" opacity="0.9"/>
<circle cx="160.7" cy="237.6" r="1.18" fill="#ddd6f4" opacity="0.9"/>
<circle cx="211.2" cy="229.5" r="1.52" fill="#ddd6f4" opacity="0.9"/>
<circle cx="215.7" cy="247.3" r="0.98" fill="#ddd6f4" opacity="0.9"/>
<circle cx="233.6" cy="236.1" r="1.54" fill="#ddd6f4" opacity="0.9"/>
<circle cx="176.0" cy="230.8" r="1.48" fill="#ddd6f4" opacity="0.9"/>
<circle cx="181.0" cy="273.2" r="1.25" fill="#ddd6f4" opacity="0.9"/>
<circle cx="172.6" cy="231.0" r="1.18" fill="#ddd6f4" opacity="0.9"/>
<circle cx="209.9" cy="273.0" r="0.93" fill="#ddd6f4" opacity="0.9"/>
<circle cx="188.7" cy="230.4" r="1.68" fill="#ddd6f4" opacity="0.9"/>
<circle cx="169.1" cy="221.0" r="0.85" fill="#ddd6f4" opacity="0.9"/>
<circle cx="188.7" cy="270.1" r="1.60" fill="#ddd6f4" opacity="0.9"/>
<circle cx="215.2" cy="275.9" r="1.64" fill="#ddd6f4" opacity="0.9"/>
<circle cx="183.7" cy="228.8" r="1.64" fill="#ddd6f4" opacity="0.9"/>
<circle cx="216.2" cy="219.8" r="1.40" fill="#ddd6f4" opacity="0.9"/>
<circle cx="187.5" cy="239.7" r="1.10" fill="#ddd6f4" opacity="0.9"/>
<circle cx="171.2" cy="218.2" r="1.05" fill="#ddd6f4" opacity="0.9"/>
<circle cx="185.4" cy="273.4" r="0.91" fill="#ddd6f4" opacity="0.9"/>
<circle cx="233.2" cy="230.0" r="1.12" fill="#ddd6f4" opacity="0.9"/>
<circle cx="222.1" cy="265.7" r="1.19" fill="#ddd6f4" opacity="0.9"/>
<circle cx="161.8" cy="245.5" r="1.14" fill="#ddd6f4" opacity="0.9"/>
<circle cx="229.7" cy="229.2" r="1.13" fill="#ddd6f4" opacity="0.9"/>
<circle cx="228.0" cy="219.8" r="1.17" fill="#ddd6f4" opacity="0.9"/>
<circle cx="221.3" cy="262.5" r="0.84" fill="#ddd6f4" opacity="0.9"/>
<circle cx="160.7" cy="221.6" r="1.63" fill="#ddd6f4" opacity="0.9"/>
<circle cx="178.0" cy="261.3" r="1.61" fill="#ddd6f4" opacity="0.9"/>
<circle cx="184.4" cy="233.8" r="1.66" fill="#ddd6f4" opacity="0.9"/>
<circle cx="206.1" cy="233.2" r="1.44" fill="#ddd6f4" opacity="0.9"/>
<circle cx="182.8" cy="229.8" r="8.20" fill="#5a48ae"/>
<circle cx="179.7" cy="251.9" r="7.26" fill="#5646ac"/>
<circle cx="176.5" cy="269.5" r="6.62" fill="#5c4aae"/>
<circle cx="228.9" cy="252.6" r="7.89" fill="#9a90d0"/>
<circle cx="229.3" cy="254.2" r="4.42" fill="#5a4cb0"/>
<circle cx="226.2" cy="239.2" r="3.94" fill="#6a5cb8"/>
<circle cx="179.7" cy="227.4" r="3.47" fill="#4838a4"/>
<circle cx="186.8" cy="231.4" r="3.15" fill="#4838a4"/>
<circle cx="178.1" cy="249.5" r="3.79" fill="#4838a4"/>
<circle cx="182.0" cy="255.3" r="2.84" fill="#4838a4"/>
<circle cx="174.9" cy="268.4" r="3.15" fill="#4838a4"/>
<circle cx="230.1" cy="251.9" r="2.52" fill="#4838a4"/>
</g>
<polygon points="205.7,215.6 238.0,215.6 238.0,235.3 225.4,237.7 218.3,244.8 211.5,242.7 208.1,232.1 204.6,223.5" fill="#fff" filter="url(#b1)"/>
<polygon points="156.0,243.2 163.1,245.2 167.4,254.2 163.9,262.9 156.0,265.3" fill="#fff" filter="url(#b1)"/>
<polygon points="192.6,260.1 201.7,257.8 209.9,264.8 211.5,277.1 192.0,277.1 190.7,267.9" fill="#fff" filter="url(#b1)"/>
<polygon points="211.5,266.1 222.2,264.2 223.8,277.1 211.5,277.1" fill="#e4e0f4" filter="url(#b1)"/>
<path transform="translate(174.6,232.6) rotate(0)" d="M0,0 L-10,-3.9 L-6.2,0 L-10,3.9 Z" fill="#0a0a10"/>
<path transform="translate(176.5,251.5) rotate(0)" d="M0,0 L-10,-3.9 L-6.2,0 L-10,3.9 Z" fill="#0a0a10"/>
<path transform="translate(173.4,270.0) rotate(0)" d="M0,0 L-10,-3.9 L-6.2,0 L-10,3.9 Z" fill="#0a0a10"/>
<path transform="translate(225.1,255.3) rotate(0)" d="M0,0 L-10,-3.9 L-6.2,0 L-10,3.9 Z" fill="#0a0a10"/>
<rect x="215.10" y="273.00" width="19.00" height="2.00" fill="#000" />
</g>
<g clip-path="url(#cC2)">
<rect x="236.90" y="217.50" width="77.00" height="58.30" fill="#aca1da" />
<g filter="url(#mott)">
<circle cx="249.7" cy="258.0" r="3.27" fill="#d6ccf0" opacity="0.6"/>
<circle cx="273.9" cy="230.5" r="3.59" fill="#d6ccf0" opacity="0.6"/>
<circle cx="299.2" cy="247.7" r="3.01" fill="#d6ccf0" opacity="0.6"/>
<circle cx="255.2" cy="218.2" r="2.74" fill="#d6ccf0" opacity="0.6"/>
<circle cx="282.1" cy="222.0" r="3.59" fill="#d6ccf0" opacity="0.6"/>
<circle cx="254.9" cy="231.5" r="2.08" fill="#d6ccf0" opacity="0.6"/>
<circle cx="313.8" cy="260.8" r="3.75" fill="#d6ccf0" opacity="0.6"/>
<circle cx="284.4" cy="220.0" r="2.66" fill="#d6ccf0" opacity="0.6"/>
<circle cx="275.3" cy="224.7" r="3.90" fill="#d6ccf0" opacity="0.6"/>
<circle cx="265.4" cy="227.0" r="3.64" fill="#d6ccf0" opacity="0.6"/>
<circle cx="246.6" cy="271.8" r="2.91" fill="#d6ccf0" opacity="0.6"/>
<circle cx="279.5" cy="237.9" r="2.97" fill="#d6ccf0" opacity="0.6"/>
<circle cx="251.4" cy="220.2" r="3.73" fill="#d6ccf0" opacity="0.6"/>
<circle cx="255.1" cy="263.3" r="2.42" fill="#d6ccf0" opacity="0.6"/>
<circle cx="311.6" cy="269.9" r="3.51" fill="#d6ccf0" opacity="0.6"/>
<circle cx="295.7" cy="251.7" r="3.46" fill="#d6ccf0" opacity="0.6"/>
<circle cx="246.4" cy="245.6" r="4.57" fill="#6d5cb6" opacity="0.7"/>
<circle cx="252.5" cy="271.5" r="4.72" fill="#6d5cb6" opacity="0.7"/>
<circle cx="268.5" cy="239.2" r="3.63" fill="#6d5cb6" opacity="0.7"/>
<circle cx="266.7" cy="275.7" r="3.47" fill="#6d5cb6" opacity="0.7"/>
<circle cx="239.1" cy="223.4" r="4.30" fill="#6d5cb6" opacity="0.7"/>
<circle cx="313.4" cy="246.8" r="3.73" fill="#6d5cb6" opacity="0.7"/>
<circle cx="279.4" cy="261.4" r="3.06" fill="#6d5cb6" opacity="0.7"/>
<circle cx="283.9" cy="250.3" r="4.06" fill="#6d5cb6" opacity="0.7"/>
<circle cx="250.9" cy="227.9" r="3.37" fill="#6d5cb6" opacity="0.7"/>
<circle cx="308.4" cy="238.1" r="3.99" fill="#6d5cb6" opacity="0.7"/>
<circle cx="260.6" cy="224.0" r="2.66" fill="#6d5cb6" opacity="0.7"/>
<circle cx="299.7" cy="263.1" r="3.44" fill="#6d5cb6" opacity="0.7"/>
<circle cx="289.6" cy="257.2" r="4.75" fill="#6d5cb6" opacity="0.7"/>
<circle cx="310.8" cy="241.6" r="4.97" fill="#6d5cb6" opacity="0.7"/>
<circle cx="311.0" cy="252.3" r="4.71" fill="#6d5cb6" opacity="0.7"/>
<circle cx="274.8" cy="239.8" r="3.12" fill="#6d5cb6" opacity="0.7"/>
<circle cx="304.5" cy="227.4" r="2.67" fill="#6d5cb6" opacity="0.7"/>
<circle cx="299.0" cy="262.9" r="3.71" fill="#6d5cb6" opacity="0.7"/>
<circle cx="301.4" cy="221.0" r="3.14" fill="#6d5cb6" opacity="0.7"/>
<circle cx="259.3" cy="242.3" r="2.93" fill="#6d5cb6" opacity="0.7"/>
<circle cx="242.3" cy="237.6" r="4.75" fill="#6d5cb6" opacity="0.7"/>
<circle cx="312.7" cy="261.3" r="3.70" fill="#6d5cb6" opacity="0.7"/>
<circle cx="256.4" cy="273.6" r="3.81" fill="#6d5cb6" opacity="0.7"/>
<circle cx="293.1" cy="219.6" r="3.03" fill="#6d5cb6" opacity="0.7"/>
<circle cx="301.5" cy="264.1" r="4.70" fill="#6d5cb6" opacity="0.7"/>
<circle cx="283.3" cy="242.7" r="3.95" fill="#6d5cb6" opacity="0.7"/>
<circle cx="302.4" cy="235.9" r="3.84" fill="#6d5cb6" opacity="0.7"/>
<circle cx="258.3" cy="262.6" r="2.53" fill="#6d5cb6" opacity="0.7"/>
<circle cx="289.8" cy="273.3" r="2.56" fill="#6d5cb6" opacity="0.7"/>
<circle cx="282.7" cy="255.3" r="4.63" fill="#6d5cb6" opacity="0.7"/>
<circle cx="282.0" cy="232.9" r="3.51" fill="#6d5cb6" opacity="0.7"/>
<circle cx="310.8" cy="270.5" r="2.83" fill="#6d5cb6" opacity="0.7"/>
<circle cx="244.3" cy="223.4" r="2.56" fill="#6d5cb6" opacity="0.7"/>
<circle cx="271.4" cy="226.2" r="4.67" fill="#6d5cb6" opacity="0.7"/>
<circle cx="287.5" cy="225.3" r="3.85" fill="#6d5cb6" opacity="0.7"/>
<circle cx="262.0" cy="246.6" r="3.05" fill="#6d5cb6" opacity="0.7"/>
<circle cx="249.8" cy="228.7" r="3.44" fill="#6d5cb6" opacity="0.7"/>
<circle cx="291.7" cy="249.9" r="2.62" fill="#6d5cb6" opacity="0.7"/>
<circle cx="291.7" cy="268.7" r="4.44" fill="#6d5cb6" opacity="0.7"/>
<circle cx="297.9" cy="218.5" r="3.66" fill="#6d5cb6" opacity="0.7"/>
<circle cx="241.9" cy="262.3" r="2.94" fill="#6d5cb6" opacity="0.7"/>
<circle cx="291.8" cy="232.7" r="4.24" fill="#6d5cb6" opacity="0.7"/>
<circle cx="261.1" cy="220.4" r="3.47" fill="#6d5cb6" opacity="0.7"/>
<circle cx="260.8" cy="270.2" r="3.24" fill="#6d5cb6" opacity="0.7"/>
<circle cx="275.7" cy="249.9" r="2.44" fill="#4838a4" opacity="0.92"/>
<circle cx="244.6" cy="252.9" r="1.96" fill="#4838a4" opacity="0.92"/>
<circle cx="293.6" cy="274.1" r="1.74" fill="#4838a4" opacity="0.92"/>
<circle cx="290.9" cy="248.5" r="2.02" fill="#4838a4" opacity="0.92"/>
<circle cx="241.9" cy="265.3" r="2.47" fill="#4838a4" opacity="0.92"/>
<circle cx="264.4" cy="236.4" r="2.49" fill="#4838a4" opacity="0.92"/>
<circle cx="245.3" cy="222.4" r="1.48" fill="#4838a4" opacity="0.92"/>
<circle cx="299.7" cy="262.1" r="1.89" fill="#4838a4" opacity="0.92"/>
<circle cx="284.8" cy="219.1" r="2.11" fill="#4838a4" opacity="0.92"/>
<circle cx="271.1" cy="248.0" r="1.83" fill="#4838a4" opacity="0.92"/>
<circle cx="267.9" cy="231.1" r="1.45" fill="#4838a4" opacity="0.92"/>
<circle cx="270.4" cy="232.3" r="2.17" fill="#4838a4" opacity="0.92"/>
<circle cx="299.9" cy="260.0" r="1.90" fill="#4838a4" opacity="0.92"/>
<circle cx="255.2" cy="240.4" r="1.94" fill="#4838a4" opacity="0.92"/>
<circle cx="285.7" cy="273.9" r="1.49" fill="#4838a4" opacity="0.92"/>
<circle cx="273.9" cy="246.5" r="2.19" fill="#4838a4" opacity="0.92"/>
<circle cx="305.6" cy="263.2" r="2.09" fill="#4838a4" opacity="0.92"/>
<circle cx="295.4" cy="256.7" r="2.34" fill="#4838a4" opacity="0.92"/>
<circle cx="290.8" cy="257.6" r="1.67" fill="#4838a4" opacity="0.92"/>
<circle cx="307.6" cy="240.4" r="2.08" fill="#4838a4" opacity="0.92"/>
<circle cx="300.5" cy="273.9" r="2.49" fill="#4838a4" opacity="0.92"/>
<circle cx="237.5" cy="236.1" r="1.74" fill="#4838a4" opacity="0.92"/>
<circle cx="267.1" cy="226.4" r="2.01" fill="#4838a4" opacity="0.92"/>
<circle cx="243.1" cy="235.6" r="2.44" fill="#4838a4" opacity="0.92"/>
<circle cx="294.2" cy="244.8" r="1.52" fill="#4838a4" opacity="0.92"/>
<circle cx="310.6" cy="258.8" r="1.63" fill="#4838a4" opacity="0.92"/>
<circle cx="262.8" cy="255.2" r="2.15" fill="#4838a4" opacity="0.92"/>
<circle cx="257.1" cy="273.2" r="1.75" fill="#4838a4" opacity="0.92"/>
<circle cx="256.6" cy="267.0" r="1.57" fill="#4838a4" opacity="0.92"/>
<circle cx="289.4" cy="229.6" r="2.06" fill="#4838a4" opacity="0.92"/>
<circle cx="258.4" cy="240.0" r="2.43" fill="#4838a4" opacity="0.92"/>
<circle cx="273.0" cy="243.3" r="2.08" fill="#4838a4" opacity="0.92"/>
<circle cx="258.6" cy="228.1" r="1.82" fill="#4838a4" opacity="0.92"/>
<circle cx="258.0" cy="228.9" r="2.46" fill="#4838a4" opacity="0.92"/>
<circle cx="239.6" cy="265.0" r="2.43" fill="#4838a4" opacity="0.92"/>
<circle cx="291.3" cy="219.1" r="1.95" fill="#4838a4" opacity="0.92"/>
<circle cx="240.0" cy="253.3" r="2.17" fill="#4838a4" opacity="0.92"/>
<circle cx="255.5" cy="218.4" r="2.00" fill="#4838a4" opacity="0.92"/>
<circle cx="244.3" cy="235.9" r="1.90" fill="#4838a4" opacity="0.92"/>
<circle cx="305.9" cy="239.5" r="1.55" fill="#4838a4" opacity="0.92"/>
<circle cx="298.0" cy="265.7" r="1.98" fill="#4838a4" opacity="0.92"/>
<circle cx="240.8" cy="228.9" r="1.84" fill="#4838a4" opacity="0.92"/>
<circle cx="279.5" cy="231.1" r="2.28" fill="#4838a4" opacity="0.92"/>
<circle cx="301.9" cy="271.7" r="2.37" fill="#4838a4" opacity="0.92"/>
<circle cx="238.4" cy="251.8" r="1.49" fill="#4838a4" opacity="0.92"/>
<circle cx="306.3" cy="261.3" r="2.24" fill="#4838a4" opacity="0.92"/>
<circle cx="251.5" cy="221.5" r="2.30" fill="#4838a4" opacity="0.92"/>
<circle cx="283.7" cy="254.0" r="1.92" fill="#4838a4" opacity="0.92"/>
<circle cx="298.6" cy="237.6" r="1.70" fill="#4838a4" opacity="0.92"/>
<circle cx="264.2" cy="235.3" r="2.09" fill="#4838a4" opacity="0.92"/>
<circle cx="305.5" cy="222.1" r="1.47" fill="#4838a4" opacity="0.92"/>
<circle cx="276.4" cy="257.3" r="1.61" fill="#4838a4" opacity="0.92"/>
<circle cx="257.8" cy="221.4" r="1.44" fill="#4838a4" opacity="0.92"/>
<circle cx="275.1" cy="257.5" r="2.12" fill="#4838a4" opacity="0.92"/>
<circle cx="249.2" cy="224.0" r="2.42" fill="#4838a4" opacity="0.92"/>
<circle cx="278.5" cy="241.7" r="2.16" fill="#4838a4" opacity="0.92"/>
<circle cx="293.0" cy="248.4" r="1.49" fill="#4838a4" opacity="0.92"/>
<circle cx="300.7" cy="230.4" r="1.44" fill="#4838a4" opacity="0.92"/>
<circle cx="264.1" cy="248.9" r="2.09" fill="#4838a4" opacity="0.92"/>
<circle cx="250.4" cy="259.2" r="1.94" fill="#4838a4" opacity="0.92"/>
<circle cx="249.5" cy="267.4" r="2.29" fill="#4838a4" opacity="0.92"/>
<circle cx="306.8" cy="257.4" r="1.64" fill="#4838a4" opacity="0.92"/>
<circle cx="296.9" cy="270.4" r="1.99" fill="#4838a4" opacity="0.92"/>
<circle cx="307.0" cy="274.3" r="1.83" fill="#4838a4" opacity="0.92"/>
<circle cx="309.5" cy="272.3" r="2.27" fill="#4838a4" opacity="0.92"/>
<circle cx="237.9" cy="238.4" r="2.07" fill="#4838a4" opacity="0.92"/>
<circle cx="283.8" cy="261.8" r="2.11" fill="#4838a4" opacity="0.92"/>
<circle cx="249.4" cy="272.0" r="1.99" fill="#4838a4" opacity="0.92"/>
<circle cx="304.9" cy="230.0" r="2.50" fill="#4838a4" opacity="0.92"/>
<circle cx="279.7" cy="263.0" r="2.21" fill="#4838a4" opacity="0.92"/>
<circle cx="305.0" cy="239.0" r="1.49" fill="#4838a4" opacity="0.92"/>
<circle cx="268.2" cy="228.3" r="1.99" fill="#4838a4" opacity="0.92"/>
<circle cx="299.8" cy="239.0" r="1.54" fill="#4838a4" opacity="0.92"/>
<circle cx="239.1" cy="242.5" r="2.04" fill="#4838a4" opacity="0.92"/>
<circle cx="239.0" cy="256.6" r="1.63" fill="#4838a4" opacity="0.92"/>
<circle cx="245.2" cy="271.8" r="1.98" fill="#4838a4" opacity="0.92"/>
<circle cx="305.9" cy="247.8" r="1.54" fill="#4838a4" opacity="0.92"/>
<circle cx="255.5" cy="242.6" r="2.10" fill="#4838a4" opacity="0.92"/>
<circle cx="296.4" cy="261.6" r="2.12" fill="#4838a4" opacity="0.92"/>
<circle cx="256.5" cy="242.9" r="1.82" fill="#4838a4" opacity="0.92"/>
<circle cx="274.7" cy="233.4" r="1.99" fill="#4838a4" opacity="0.92"/>
<circle cx="272.3" cy="220.1" r="2.31" fill="#4838a4" opacity="0.92"/>
<circle cx="282.2" cy="264.6" r="2.21" fill="#4838a4" opacity="0.92"/>
<circle cx="293.3" cy="275.6" r="1.81" fill="#4838a4" opacity="0.92"/>
<circle cx="267.3" cy="218.2" r="2.13" fill="#4838a4" opacity="0.92"/>
<circle cx="281.8" cy="251.4" r="2.50" fill="#4838a4" opacity="0.92"/>
<circle cx="252.2" cy="231.2" r="2.21" fill="#4838a4" opacity="0.92"/>
<circle cx="299.6" cy="246.0" r="1.46" fill="#4838a4" opacity="0.92"/>
<circle cx="265.5" cy="265.9" r="1.95" fill="#4838a4" opacity="0.92"/>
<circle cx="272.5" cy="240.6" r="2.09" fill="#4838a4" opacity="0.92"/>
<circle cx="283.1" cy="258.2" r="2.35" fill="#4838a4" opacity="0.92"/>
<circle cx="294.8" cy="239.7" r="1.68" fill="#4838a4" opacity="0.92"/>
<circle cx="297.2" cy="264.0" r="2.42" fill="#4838a4" opacity="0.92"/>
<circle cx="252.3" cy="267.2" r="2.38" fill="#4838a4" opacity="0.92"/>
<circle cx="242.9" cy="235.9" r="2.10" fill="#4838a4" opacity="0.92"/>
<circle cx="248.3" cy="266.2" r="1.69" fill="#4838a4" opacity="0.92"/>
<circle cx="289.5" cy="235.2" r="1.64" fill="#4838a4" opacity="0.92"/>
<circle cx="252.9" cy="246.9" r="2.18" fill="#4838a4" opacity="0.92"/>
<circle cx="253.8" cy="257.8" r="1.77" fill="#4838a4" opacity="0.92"/>
<circle cx="287.0" cy="239.4" r="1.61" fill="#4838a4" opacity="0.92"/>
<circle cx="247.9" cy="221.3" r="2.17" fill="#4838a4" opacity="0.92"/>
<circle cx="268.9" cy="225.1" r="2.37" fill="#4838a4" opacity="0.92"/>
<circle cx="287.4" cy="219.2" r="2.20" fill="#4838a4" opacity="0.92"/>
<circle cx="282.8" cy="243.7" r="1.95" fill="#4838a4" opacity="0.92"/>
<circle cx="311.1" cy="239.7" r="2.10" fill="#4838a4" opacity="0.92"/>
<circle cx="286.0" cy="239.2" r="1.78" fill="#4838a4" opacity="0.92"/>
<circle cx="295.1" cy="254.9" r="1.90" fill="#4838a4" opacity="0.92"/>
<circle cx="276.6" cy="231.0" r="2.27" fill="#4838a4" opacity="0.92"/>
<circle cx="238.5" cy="255.3" r="1.90" fill="#4838a4" opacity="0.92"/>
<circle cx="254.0" cy="252.0" r="2.04" fill="#4838a4" opacity="0.92"/>
<circle cx="243.7" cy="246.4" r="1.58" fill="#4838a4" opacity="0.92"/>
<circle cx="298.5" cy="237.0" r="1.76" fill="#4838a4" opacity="0.92"/>
<circle cx="253.6" cy="220.8" r="1.61" fill="#4838a4" opacity="0.92"/>
<circle cx="248.7" cy="254.2" r="2.33" fill="#4838a4" opacity="0.92"/>
<circle cx="254.0" cy="224.5" r="1.99" fill="#4838a4" opacity="0.92"/>
<circle cx="245.9" cy="241.5" r="2.24" fill="#4838a4" opacity="0.92"/>
<circle cx="252.6" cy="258.6" r="1.99" fill="#4838a4" opacity="0.92"/>
<circle cx="243.5" cy="232.1" r="2.06" fill="#4838a4" opacity="0.92"/>
<circle cx="244.4" cy="229.8" r="2.03" fill="#4838a4" opacity="0.92"/>
<circle cx="300.0" cy="248.2" r="2.13" fill="#4838a4" opacity="0.92"/>
<circle cx="237.7" cy="235.6" r="1.75" fill="#4838a4" opacity="0.92"/>
<circle cx="307.3" cy="238.7" r="2.26" fill="#4838a4" opacity="0.92"/>
<circle cx="239.6" cy="246.9" r="2.38" fill="#4838a4" opacity="0.92"/>
<circle cx="296.4" cy="251.6" r="1.60" fill="#4838a4" opacity="0.92"/>
<circle cx="308.3" cy="222.6" r="2.46" fill="#4838a4" opacity="0.92"/>
<circle cx="296.8" cy="259.7" r="1.98" fill="#4838a4" opacity="0.92"/>
<circle cx="249.6" cy="237.8" r="2.13" fill="#4838a4" opacity="0.92"/>
<circle cx="287.5" cy="240.6" r="2.28" fill="#4838a4" opacity="0.92"/>
<circle cx="241.1" cy="234.7" r="1.50" fill="#4838a4" opacity="0.92"/>
<circle cx="262.0" cy="264.0" r="2.23" fill="#4838a4" opacity="0.92"/>
<circle cx="248.5" cy="235.9" r="1.52" fill="#4838a4" opacity="0.92"/>
<circle cx="288.0" cy="243.7" r="1.65" fill="#4838a4" opacity="0.92"/>
<circle cx="265.8" cy="268.2" r="1.87" fill="#4838a4" opacity="0.92"/>
<circle cx="290.2" cy="254.4" r="1.92" fill="#4838a4" opacity="0.92"/>
<circle cx="279.8" cy="239.1" r="1.62" fill="#4838a4" opacity="0.92"/>
<circle cx="275.1" cy="235.7" r="1.76" fill="#4838a4" opacity="0.92"/>
<circle cx="251.4" cy="271.0" r="1.87" fill="#4838a4" opacity="0.92"/>
<circle cx="252.4" cy="219.8" r="1.64" fill="#4838a4" opacity="0.92"/>
<circle cx="303.9" cy="237.5" r="2.13" fill="#4838a4" opacity="0.92"/>
<circle cx="254.7" cy="255.7" r="1.90" fill="#4838a4" opacity="0.92"/>
<circle cx="293.7" cy="248.6" r="1.81" fill="#4838a4" opacity="0.92"/>
<circle cx="258.6" cy="252.5" r="2.32" fill="#4838a4" opacity="0.92"/>
<circle cx="290.3" cy="245.8" r="1.76" fill="#4838a4" opacity="0.92"/>
<circle cx="305.6" cy="267.1" r="1.56" fill="#4838a4" opacity="0.92"/>
<circle cx="289.3" cy="262.8" r="2.14" fill="#4838a4" opacity="0.92"/>
<circle cx="311.3" cy="269.0" r="1.67" fill="#4838a4" opacity="0.92"/>
<circle cx="313.7" cy="237.0" r="1.82" fill="#4838a4" opacity="0.92"/>
<circle cx="312.2" cy="227.7" r="1.83" fill="#4838a4" opacity="0.92"/>
<circle cx="285.2" cy="233.8" r="1.69" fill="#4838a4" opacity="0.92"/>
<circle cx="298.2" cy="253.5" r="2.22" fill="#4838a4" opacity="0.92"/>
<circle cx="297.8" cy="268.6" r="1.60" fill="#ddd6f4" opacity="0.9"/>
<circle cx="300.4" cy="274.8" r="1.25" fill="#ddd6f4" opacity="0.9"/>
<circle cx="291.0" cy="247.8" r="1.67" fill="#ddd6f4" opacity="0.9"/>
<circle cx="287.4" cy="243.0" r="1.40" fill="#ddd6f4" opacity="0.9"/>
<circle cx="259.7" cy="225.5" r="1.15" fill="#ddd6f4" opacity="0.9"/>
<circle cx="247.5" cy="218.2" r="0.88" fill="#ddd6f4" opacity="0.9"/>
<circle cx="272.0" cy="262.3" r="0.84" fill="#ddd6f4" opacity="0.9"/>
<circle cx="286.0" cy="224.5" r="1.26" fill="#ddd6f4" opacity="0.9"/>
<circle cx="259.8" cy="243.9" r="1.44" fill="#ddd6f4" opacity="0.9"/>
<circle cx="268.8" cy="240.7" r="1.46" fill="#ddd6f4" opacity="0.9"/>
<circle cx="245.9" cy="238.2" r="1.43" fill="#ddd6f4" opacity="0.9"/>
<circle cx="301.3" cy="274.8" r="1.03" fill="#ddd6f4" opacity="0.9"/>
<circle cx="285.1" cy="236.1" r="1.43" fill="#ddd6f4" opacity="0.9"/>
<circle cx="302.2" cy="225.8" r="1.11" fill="#ddd6f4" opacity="0.9"/>
<circle cx="309.1" cy="238.4" r="1.37" fill="#ddd6f4" opacity="0.9"/>
<circle cx="300.0" cy="234.2" r="1.51" fill="#ddd6f4" opacity="0.9"/>
<circle cx="237.3" cy="237.7" r="0.95" fill="#ddd6f4" opacity="0.9"/>
<circle cx="263.6" cy="230.4" r="0.82" fill="#ddd6f4" opacity="0.9"/>
<circle cx="298.8" cy="228.1" r="1.32" fill="#ddd6f4" opacity="0.9"/>
<circle cx="279.7" cy="267.3" r="1.56" fill="#ddd6f4" opacity="0.9"/>
<circle cx="284.9" cy="227.8" r="1.48" fill="#ddd6f4" opacity="0.9"/>
<circle cx="244.5" cy="271.9" r="1.08" fill="#ddd6f4" opacity="0.9"/>
<circle cx="256.5" cy="230.6" r="1.16" fill="#ddd6f4" opacity="0.9"/>
<circle cx="297.9" cy="267.6" r="1.47" fill="#ddd6f4" opacity="0.9"/>
<circle cx="293.2" cy="232.2" r="1.09" fill="#ddd6f4" opacity="0.9"/>
<circle cx="260.4" cy="243.1" r="1.59" fill="#ddd6f4" opacity="0.9"/>
<circle cx="313.7" cy="222.9" r="1.67" fill="#ddd6f4" opacity="0.9"/>
<circle cx="307.7" cy="244.7" r="1.42" fill="#ddd6f4" opacity="0.9"/>
<circle cx="297.4" cy="228.8" r="1.35" fill="#ddd6f4" opacity="0.9"/>
<circle cx="312.6" cy="269.1" r="1.62" fill="#ddd6f4" opacity="0.9"/>
<circle cx="243.5" cy="259.5" r="1.24" fill="#ddd6f4" opacity="0.9"/>
<circle cx="307.0" cy="227.7" r="1.29" fill="#ddd6f4" opacity="0.9"/>
<circle cx="246.3" cy="264.7" r="1.45" fill="#ddd6f4" opacity="0.9"/>
<circle cx="239.4" cy="236.0" r="0.93" fill="#ddd6f4" opacity="0.9"/>
<circle cx="285.9" cy="254.5" r="0.86" fill="#ddd6f4" opacity="0.9"/>
<circle cx="310.2" cy="274.0" r="1.20" fill="#ddd6f4" opacity="0.9"/>
<circle cx="281.2" cy="239.1" r="1.35" fill="#ddd6f4" opacity="0.9"/>
<circle cx="267.7" cy="243.6" r="1.47" fill="#ddd6f4" opacity="0.9"/>
<circle cx="251.4" cy="235.3" r="1.49" fill="#ddd6f4" opacity="0.9"/>
<circle cx="254.3" cy="222.0" r="1.62" fill="#ddd6f4" opacity="0.9"/>
<circle cx="249.3" cy="241.8" r="1.08" fill="#ddd6f4" opacity="0.9"/>
<circle cx="257.1" cy="238.4" r="1.28" fill="#ddd6f4" opacity="0.9"/>
<circle cx="245.9" cy="248.9" r="0.85" fill="#ddd6f4" opacity="0.9"/>
<circle cx="243.1" cy="229.7" r="1.02" fill="#ddd6f4" opacity="0.9"/>
<circle cx="263.3" cy="234.9" r="1.55" fill="#ddd6f4" opacity="0.9"/>
<circle cx="287.7" cy="245.4" r="1.49" fill="#ddd6f4" opacity="0.9"/>
<circle cx="289.8" cy="236.3" r="1.35" fill="#ddd6f4" opacity="0.9"/>
<circle cx="294.4" cy="249.0" r="1.48" fill="#ddd6f4" opacity="0.9"/>
<circle cx="285.7" cy="271.8" r="1.04" fill="#ddd6f4" opacity="0.9"/>
<circle cx="288.7" cy="274.7" r="1.28" fill="#ddd6f4" opacity="0.9"/>
<circle cx="258.7" cy="244.0" r="11.36" fill="#7464bc"/>
<circle cx="277.9" cy="237.7" r="7.26" fill="#6252b2"/>
<circle cx="287.1" cy="266.4" r="8.83" fill="#6a5ab8"/>
<circle cx="309.4" cy="253.4" r="7.26" fill="#9a8ed0"/>
<circle cx="298.1" cy="226.9" r="5.68" fill="#9488cc"/>
<circle cx="299.7" cy="262.9" r="4.73" fill="#8e82c8"/>
<circle cx="253.9" cy="239.2" r="3.15" fill="#4838a4" opacity="0.9"/>
<circle cx="261.8" cy="247.9" r="3.47" fill="#4838a4" opacity="0.9"/>
<circle cx="254.7" cy="251.1" r="2.52" fill="#4838a4" opacity="0.9"/>
<circle cx="265.0" cy="240.0" r="2.37" fill="#4838a4" opacity="0.9"/>
<circle cx="277.6" cy="236.1" r="3.79" fill="#4838a4" opacity="0.9"/>
<circle cx="282.3" cy="266.1" r="3.47" fill="#4838a4" opacity="0.9"/>
<circle cx="290.2" cy="269.2" r="2.84" fill="#4838a4" opacity="0.9"/>
<circle cx="310.7" cy="255.3" r="2.37" fill="#4838a4" opacity="0.9"/>
</g>
<circle cx="241.3" cy="246.3" r="2.52" fill="#f4f2fb" filter="url(#b05)"/>
<circle cx="239.7" cy="251.1" r="1.89" fill="#f4f2fb" filter="url(#b05)"/>
<circle cx="298.9" cy="237.3" r="1.58" fill="#f4f2fb" filter="url(#b05)"/>
<circle cx="270.0" cy="256.3" r="1.10" fill="#f4f2fb" filter="url(#b05)"/>
<circle cx="287.4" cy="227.2" r="1.26" fill="#f4f2fb" filter="url(#b05)"/>
<circle cx="238.2" cy="261.3" r="1.26" fill="#f4f2fb" filter="url(#b05)"/>
<circle cx="296.5" cy="240.8" r="1.10" fill="#f4f2fb" filter="url(#b05)"/>
<path transform="translate(256.3,234.5) rotate(35)" d="M0,0 L-10,-3.9 L-6.2,0 L-10,3.9 Z" fill="#0a0a10"/>
<path transform="translate(272.1,232.6) rotate(35)" d="M0,0 L-10,-3.9 L-6.2,0 L-10,3.9 Z" fill="#0a0a10"/>
<path transform="translate(285.8,229.5) rotate(150)" d="M0,0 L-10,-3.9 L-6.2,0 L-10,3.9 Z" fill="#0a0a10"/>
<path transform="translate(307.9,247.1) rotate(35)" d="M0,0 L-10,-3.9 L-6.2,0 L-10,3.9 Z" fill="#0a0a10"/>
<path transform="translate(283.1,259.0) rotate(35)" d="M0,0 L-10,-3.9 L-6.2,0 L-10,3.9 Z" fill="#0a0a10"/>
<path transform="translate(246.8,264.2) rotate(0)" d="M0,0 L-10,-3.9 L-6.2,0 L-10,3.9 Z" fill="#0a0a10"/>
<path transform="translate(251.6,271.6) rotate(5)" d="M0,0 L-10,-3.9 L-6.2,0 L-10,3.9 Z" fill="#0a0a10"/>
<rect x="293.70" y="273.00" width="18.90" height="2.00" fill="#000" />
</g>
<g clip-path="url(#cC3)">
<rect x="315.90" y="217.50" width="77.80" height="58.30" fill="#cdc5ec" />
<g filter="url(#mott)">
<circle cx="360.5" cy="254.7" r="3.63" fill="#d6ccf0" opacity="0.6"/>
<circle cx="337.6" cy="255.8" r="3.78" fill="#d6ccf0" opacity="0.6"/>
<circle cx="386.9" cy="228.8" r="3.30" fill="#d6ccf0" opacity="0.6"/>
<circle cx="364.1" cy="247.2" r="3.93" fill="#d6ccf0" opacity="0.6"/>
<circle cx="357.2" cy="243.8" r="3.89" fill="#d6ccf0" opacity="0.6"/>
<circle cx="365.6" cy="235.5" r="2.62" fill="#d6ccf0" opacity="0.6"/>
<circle cx="354.7" cy="221.1" r="3.22" fill="#d6ccf0" opacity="0.6"/>
<circle cx="373.4" cy="242.7" r="3.69" fill="#d6ccf0" opacity="0.6"/>
<circle cx="388.4" cy="250.2" r="3.36" fill="#d6ccf0" opacity="0.6"/>
<circle cx="325.1" cy="221.2" r="3.96" fill="#d6ccf0" opacity="0.6"/>
<circle cx="338.2" cy="230.4" r="4.74" fill="#6d5cb6" opacity="0.7"/>
<circle cx="374.5" cy="225.1" r="3.30" fill="#6d5cb6" opacity="0.7"/>
<circle cx="334.9" cy="233.8" r="2.52" fill="#6d5cb6" opacity="0.7"/>
<circle cx="356.9" cy="235.7" r="3.49" fill="#6d5cb6" opacity="0.7"/>
<circle cx="330.5" cy="224.4" r="2.58" fill="#6d5cb6" opacity="0.7"/>
<circle cx="384.1" cy="261.3" r="3.90" fill="#6d5cb6" opacity="0.7"/>
<circle cx="325.7" cy="226.6" r="2.80" fill="#6d5cb6" opacity="0.7"/>
<circle cx="340.7" cy="221.3" r="3.19" fill="#6d5cb6" opacity="0.7"/>
<circle cx="331.8" cy="229.2" r="4.13" fill="#6d5cb6" opacity="0.7"/>
<circle cx="351.7" cy="245.5" r="3.40" fill="#6d5cb6" opacity="0.7"/>
<circle cx="358.0" cy="263.5" r="3.27" fill="#6d5cb6" opacity="0.7"/>
<circle cx="321.5" cy="245.9" r="3.45" fill="#6d5cb6" opacity="0.7"/>
<circle cx="376.9" cy="224.4" r="4.68" fill="#6d5cb6" opacity="0.7"/>
<circle cx="317.2" cy="249.4" r="3.61" fill="#6d5cb6" opacity="0.7"/>
<circle cx="340.6" cy="269.6" r="4.26" fill="#6d5cb6" opacity="0.7"/>
<circle cx="328.7" cy="246.7" r="4.03" fill="#6d5cb6" opacity="0.7"/>
<circle cx="318.6" cy="223.1" r="4.00" fill="#6d5cb6" opacity="0.7"/>
<circle cx="372.9" cy="244.8" r="3.56" fill="#6d5cb6" opacity="0.7"/>
<circle cx="355.5" cy="233.1" r="4.69" fill="#6d5cb6" opacity="0.7"/>
<circle cx="391.0" cy="246.0" r="2.55" fill="#6d5cb6" opacity="0.7"/>
<circle cx="347.0" cy="264.6" r="3.31" fill="#6d5cb6" opacity="0.7"/>
<circle cx="324.2" cy="228.7" r="4.28" fill="#6d5cb6" opacity="0.7"/>
<circle cx="364.5" cy="234.6" r="4.06" fill="#6d5cb6" opacity="0.7"/>
<circle cx="375.3" cy="274.0" r="4.58" fill="#6d5cb6" opacity="0.7"/>
<circle cx="349.8" cy="265.0" r="4.81" fill="#6d5cb6" opacity="0.7"/>
<circle cx="383.8" cy="261.5" r="3.97" fill="#6d5cb6" opacity="0.7"/>
<circle cx="355.9" cy="267.3" r="2.09" fill="#4838a4" opacity="0.92"/>
<circle cx="372.3" cy="231.2" r="1.50" fill="#4838a4" opacity="0.92"/>
<circle cx="337.1" cy="251.8" r="2.03" fill="#4838a4" opacity="0.92"/>
<circle cx="331.5" cy="228.9" r="2.45" fill="#4838a4" opacity="0.92"/>
<circle cx="321.6" cy="271.7" r="2.25" fill="#4838a4" opacity="0.92"/>
<circle cx="360.7" cy="275.7" r="2.15" fill="#4838a4" opacity="0.92"/>
<circle cx="316.5" cy="272.5" r="1.85" fill="#4838a4" opacity="0.92"/>
<circle cx="387.5" cy="265.2" r="1.55" fill="#4838a4" opacity="0.92"/>
<circle cx="319.1" cy="219.2" r="2.26" fill="#4838a4" opacity="0.92"/>
<circle cx="377.7" cy="231.2" r="1.52" fill="#4838a4" opacity="0.92"/>
<circle cx="344.6" cy="264.4" r="2.21" fill="#4838a4" opacity="0.92"/>
<circle cx="383.6" cy="274.1" r="2.23" fill="#4838a4" opacity="0.92"/>
<circle cx="381.2" cy="218.9" r="1.41" fill="#4838a4" opacity="0.92"/>
<circle cx="383.3" cy="253.9" r="1.76" fill="#4838a4" opacity="0.92"/>
<circle cx="326.0" cy="237.3" r="1.77" fill="#4838a4" opacity="0.92"/>
<circle cx="354.7" cy="244.1" r="1.62" fill="#4838a4" opacity="0.92"/>
<circle cx="322.4" cy="229.8" r="1.54" fill="#4838a4" opacity="0.92"/>
<circle cx="323.8" cy="242.0" r="1.54" fill="#4838a4" opacity="0.92"/>
<circle cx="378.4" cy="249.6" r="1.91" fill="#4838a4" opacity="0.92"/>
<circle cx="365.9" cy="231.6" r="1.43" fill="#4838a4" opacity="0.92"/>
<circle cx="322.1" cy="237.6" r="1.80" fill="#4838a4" opacity="0.92"/>
<circle cx="335.7" cy="235.8" r="2.32" fill="#4838a4" opacity="0.92"/>
<circle cx="316.7" cy="244.0" r="1.82" fill="#4838a4" opacity="0.92"/>
<circle cx="338.0" cy="260.0" r="1.65" fill="#4838a4" opacity="0.92"/>
<circle cx="319.3" cy="227.2" r="2.48" fill="#4838a4" opacity="0.92"/>
<circle cx="343.0" cy="224.8" r="2.47" fill="#4838a4" opacity="0.92"/>
<circle cx="366.3" cy="273.5" r="1.76" fill="#4838a4" opacity="0.92"/>
<circle cx="379.2" cy="220.4" r="1.66" fill="#4838a4" opacity="0.92"/>
<circle cx="378.0" cy="247.9" r="2.27" fill="#4838a4" opacity="0.92"/>
<circle cx="346.1" cy="268.8" r="1.49" fill="#4838a4" opacity="0.92"/>
<circle cx="364.6" cy="228.9" r="1.62" fill="#4838a4" opacity="0.92"/>
<circle cx="384.9" cy="242.9" r="2.29" fill="#4838a4" opacity="0.92"/>
<circle cx="338.1" cy="260.4" r="2.40" fill="#4838a4" opacity="0.92"/>
<circle cx="364.9" cy="231.6" r="2.14" fill="#4838a4" opacity="0.92"/>
<circle cx="390.2" cy="264.5" r="1.89" fill="#4838a4" opacity="0.92"/>
<circle cx="347.2" cy="223.7" r="2.25" fill="#4838a4" opacity="0.92"/>
<circle cx="328.3" cy="230.7" r="1.44" fill="#4838a4" opacity="0.92"/>
<circle cx="328.8" cy="240.3" r="1.92" fill="#4838a4" opacity="0.92"/>
<circle cx="329.7" cy="242.6" r="2.23" fill="#4838a4" opacity="0.92"/>
<circle cx="323.6" cy="225.9" r="1.97" fill="#4838a4" opacity="0.92"/>
<circle cx="386.5" cy="271.2" r="2.03" fill="#4838a4" opacity="0.92"/>
<circle cx="323.1" cy="268.7" r="2.49" fill="#4838a4" opacity="0.92"/>
<circle cx="386.1" cy="248.8" r="1.82" fill="#4838a4" opacity="0.92"/>
<circle cx="361.8" cy="263.8" r="2.49" fill="#4838a4" opacity="0.92"/>
<circle cx="354.5" cy="247.4" r="1.74" fill="#4838a4" opacity="0.92"/>
<circle cx="358.1" cy="249.5" r="1.71" fill="#4838a4" opacity="0.92"/>
<circle cx="351.7" cy="271.1" r="1.66" fill="#4838a4" opacity="0.92"/>
<circle cx="335.8" cy="235.7" r="2.34" fill="#4838a4" opacity="0.92"/>
<circle cx="339.7" cy="266.0" r="2.42" fill="#4838a4" opacity="0.92"/>
<circle cx="384.3" cy="264.7" r="1.61" fill="#4838a4" opacity="0.92"/>
<circle cx="351.1" cy="265.7" r="1.67" fill="#4838a4" opacity="0.92"/>
<circle cx="362.9" cy="268.5" r="2.43" fill="#4838a4" opacity="0.92"/>
<circle cx="343.3" cy="224.9" r="1.43" fill="#4838a4" opacity="0.92"/>
<circle cx="340.7" cy="249.7" r="1.71" fill="#4838a4" opacity="0.92"/>
<circle cx="380.3" cy="255.7" r="2.08" fill="#4838a4" opacity="0.92"/>
<circle cx="380.5" cy="237.0" r="2.11" fill="#4838a4" opacity="0.92"/>
<circle cx="343.4" cy="234.8" r="1.53" fill="#4838a4" opacity="0.92"/>
<circle cx="377.5" cy="270.2" r="1.43" fill="#4838a4" opacity="0.92"/>
<circle cx="371.9" cy="221.6" r="1.86" fill="#4838a4" opacity="0.92"/>
<circle cx="340.7" cy="270.4" r="1.88" fill="#4838a4" opacity="0.92"/>
<circle cx="355.8" cy="238.6" r="1.68" fill="#4838a4" opacity="0.92"/>
<circle cx="335.0" cy="221.6" r="1.42" fill="#4838a4" opacity="0.92"/>
<circle cx="358.9" cy="260.8" r="2.14" fill="#4838a4" opacity="0.92"/>
<circle cx="336.2" cy="275.3" r="1.49" fill="#4838a4" opacity="0.92"/>
<circle cx="349.7" cy="237.4" r="1.60" fill="#4838a4" opacity="0.92"/>
<circle cx="391.0" cy="259.5" r="1.54" fill="#4838a4" opacity="0.92"/>
<circle cx="329.8" cy="265.0" r="1.81" fill="#4838a4" opacity="0.92"/>
<circle cx="339.5" cy="235.2" r="1.76" fill="#4838a4" opacity="0.92"/>
<circle cx="361.9" cy="236.1" r="2.05" fill="#4838a4" opacity="0.92"/>
<circle cx="320.9" cy="249.0" r="2.04" fill="#4838a4" opacity="0.92"/>
<circle cx="340.9" cy="268.3" r="2.42" fill="#4838a4" opacity="0.92"/>
<circle cx="367.3" cy="241.9" r="1.58" fill="#4838a4" opacity="0.92"/>
<circle cx="364.8" cy="234.8" r="1.58" fill="#4838a4" opacity="0.92"/>
<circle cx="357.5" cy="229.6" r="2.10" fill="#4838a4" opacity="0.92"/>
<circle cx="375.3" cy="218.7" r="2.10" fill="#4838a4" opacity="0.92"/>
<circle cx="330.9" cy="237.5" r="2.20" fill="#4838a4" opacity="0.92"/>
<circle cx="391.3" cy="236.2" r="2.23" fill="#4838a4" opacity="0.92"/>
<circle cx="343.1" cy="272.6" r="1.59" fill="#4838a4" opacity="0.92"/>
<circle cx="367.9" cy="222.8" r="2.02" fill="#4838a4" opacity="0.92"/>
<circle cx="374.0" cy="271.0" r="2.24" fill="#4838a4" opacity="0.92"/>
<circle cx="358.9" cy="241.2" r="2.09" fill="#4838a4" opacity="0.92"/>
<circle cx="366.6" cy="253.4" r="2.19" fill="#4838a4" opacity="0.92"/>
<circle cx="374.1" cy="272.3" r="2.08" fill="#4838a4" opacity="0.92"/>
<circle cx="384.3" cy="260.9" r="1.82" fill="#4838a4" opacity="0.92"/>
<circle cx="378.6" cy="239.2" r="2.31" fill="#4838a4" opacity="0.92"/>
<circle cx="384.6" cy="270.0" r="2.40" fill="#4838a4" opacity="0.92"/>
<circle cx="370.0" cy="246.9" r="1.72" fill="#4838a4" opacity="0.92"/>
<circle cx="365.9" cy="269.8" r="1.79" fill="#4838a4" opacity="0.92"/>
<circle cx="332.4" cy="261.9" r="2.40" fill="#4838a4" opacity="0.92"/>
<circle cx="332.1" cy="226.1" r="1.52" fill="#4838a4" opacity="0.92"/>
<circle cx="359.0" cy="266.3" r="1.67" fill="#4838a4" opacity="0.92"/>
<circle cx="377.7" cy="220.7" r="1.63" fill="#4838a4" opacity="0.92"/>
<circle cx="358.6" cy="262.0" r="1.94" fill="#4838a4" opacity="0.92"/>
<circle cx="369.6" cy="238.9" r="1.82" fill="#4838a4" opacity="0.92"/>
<circle cx="356.6" cy="218.1" r="1.62" fill="#4838a4" opacity="0.92"/>
<circle cx="343.4" cy="256.1" r="1.62" fill="#4838a4" opacity="0.92"/>
<circle cx="335.0" cy="275.5" r="2.12" fill="#4838a4" opacity="0.92"/>
<circle cx="348.0" cy="263.4" r="2.19" fill="#4838a4" opacity="0.92"/>
<circle cx="379.7" cy="250.4" r="2.08" fill="#4838a4" opacity="0.92"/>
<circle cx="323.6" cy="242.9" r="1.83" fill="#4838a4" opacity="0.92"/>
<circle cx="336.0" cy="239.2" r="2.37" fill="#4838a4" opacity="0.92"/>
<circle cx="333.4" cy="224.6" r="1.77" fill="#4838a4" opacity="0.92"/>
<circle cx="329.2" cy="219.4" r="2.40" fill="#4838a4" opacity="0.92"/>
<circle cx="358.7" cy="219.5" r="1.98" fill="#4838a4" opacity="0.92"/>
<circle cx="329.6" cy="246.0" r="2.44" fill="#4838a4" opacity="0.92"/>
<circle cx="392.3" cy="241.1" r="2.26" fill="#4838a4" opacity="0.92"/>
<circle cx="354.4" cy="222.7" r="1.84" fill="#4838a4" opacity="0.92"/>
<circle cx="379.2" cy="263.1" r="2.20" fill="#4838a4" opacity="0.92"/>
<circle cx="393.1" cy="240.1" r="2.17" fill="#4838a4" opacity="0.92"/>
<circle cx="379.8" cy="271.6" r="2.36" fill="#4838a4" opacity="0.92"/>
<circle cx="384.1" cy="237.7" r="1.82" fill="#4838a4" opacity="0.92"/>
<circle cx="364.3" cy="225.0" r="1.74" fill="#4838a4" opacity="0.92"/>
<circle cx="344.9" cy="229.9" r="1.60" fill="#4838a4" opacity="0.92"/>
<circle cx="366.9" cy="236.0" r="1.46" fill="#4838a4" opacity="0.92"/>
<circle cx="378.2" cy="272.9" r="1.65" fill="#4838a4" opacity="0.92"/>
<circle cx="369.4" cy="222.8" r="1.64" fill="#4838a4" opacity="0.92"/>
<circle cx="328.8" cy="255.2" r="2.01" fill="#4838a4" opacity="0.92"/>
<circle cx="380.1" cy="256.3" r="2.23" fill="#4838a4" opacity="0.92"/>
<circle cx="384.2" cy="251.8" r="1.65" fill="#4838a4" opacity="0.92"/>
<circle cx="328.7" cy="267.7" r="2.30" fill="#4838a4" opacity="0.92"/>
<circle cx="366.4" cy="273.2" r="1.53" fill="#ddd6f4" opacity="0.9"/>
<circle cx="347.4" cy="228.8" r="1.18" fill="#ddd6f4" opacity="0.9"/>
<circle cx="387.6" cy="269.6" r="0.81" fill="#ddd6f4" opacity="0.9"/>
<circle cx="316.6" cy="243.9" r="1.62" fill="#ddd6f4" opacity="0.9"/>
<circle cx="384.5" cy="266.5" r="0.86" fill="#ddd6f4" opacity="0.9"/>
<circle cx="332.1" cy="262.9" r="1.20" fill="#ddd6f4" opacity="0.9"/>
<circle cx="340.9" cy="273.7" r="0.82" fill="#ddd6f4" opacity="0.9"/>
<circle cx="353.9" cy="269.2" r="1.43" fill="#ddd6f4" opacity="0.9"/>
<circle cx="385.3" cy="233.8" r="1.30" fill="#ddd6f4" opacity="0.9"/>
<circle cx="392.3" cy="225.7" r="1.19" fill="#ddd6f4" opacity="0.9"/>
<circle cx="393.3" cy="227.3" r="1.50" fill="#ddd6f4" opacity="0.9"/>
<circle cx="374.4" cy="233.0" r="1.69" fill="#ddd6f4" opacity="0.9"/>
<circle cx="376.9" cy="225.7" r="1.69" fill="#ddd6f4" opacity="0.9"/>
<circle cx="384.9" cy="245.8" r="0.83" fill="#ddd6f4" opacity="0.9"/>
<circle cx="377.2" cy="251.9" r="1.47" fill="#ddd6f4" opacity="0.9"/>
<circle cx="322.2" cy="245.8" r="1.53" fill="#ddd6f4" opacity="0.9"/>
<circle cx="372.8" cy="228.0" r="1.10" fill="#ddd6f4" opacity="0.9"/>
<circle cx="351.4" cy="244.6" r="1.69" fill="#ddd6f4" opacity="0.9"/>
<circle cx="388.8" cy="218.1" r="1.36" fill="#ddd6f4" opacity="0.9"/>
<circle cx="326.7" cy="268.1" r="1.27" fill="#ddd6f4" opacity="0.9"/>
<circle cx="386.0" cy="270.7" r="1.64" fill="#ddd6f4" opacity="0.9"/>
<circle cx="329.2" cy="221.7" r="1.50" fill="#ddd6f4" opacity="0.9"/>
<circle cx="352.3" cy="263.1" r="1.20" fill="#ddd6f4" opacity="0.9"/>
<circle cx="348.4" cy="260.6" r="1.13" fill="#ddd6f4" opacity="0.9"/>
<circle cx="354.7" cy="241.1" r="1.41" fill="#ddd6f4" opacity="0.9"/>
<circle cx="321.5" cy="244.8" r="1.32" fill="#ddd6f4" opacity="0.9"/>
<circle cx="369.4" cy="270.3" r="1.13" fill="#ddd6f4" opacity="0.9"/>
<circle cx="391.0" cy="258.8" r="1.15" fill="#ddd6f4" opacity="0.9"/>
<circle cx="359.8" cy="239.0" r="1.39" fill="#ddd6f4" opacity="0.9"/>
<circle cx="317.9" cy="270.1" r="1.12" fill="#ddd6f4" opacity="0.9"/>
<circle cx="316.9" cy="223.0" r="1.11" fill="#ddd6f4" opacity="0.9"/>
<circle cx="336.5" cy="266.6" r="1.14" fill="#ddd6f4" opacity="0.9"/>
<circle cx="387.5" cy="234.1" r="1.11" fill="#ddd6f4" opacity="0.9"/>
<circle cx="390.2" cy="267.8" r="1.64" fill="#ddd6f4" opacity="0.9"/>
<circle cx="324.9" cy="222.0" r="1.43" fill="#ddd6f4" opacity="0.9"/>
<circle cx="342.3" cy="224.1" r="0.88" fill="#ddd6f4" opacity="0.9"/>
<circle cx="341.2" cy="236.0" r="1.40" fill="#ddd6f4" opacity="0.9"/>
<circle cx="393.2" cy="227.8" r="1.51" fill="#ddd6f4" opacity="0.9"/>
<circle cx="362.4" cy="268.3" r="1.69" fill="#ddd6f4" opacity="0.9"/>
<circle cx="387.5" cy="225.6" r="1.46" fill="#ddd6f4" opacity="0.9"/>
<circle cx="331.7" cy="237.3" r="15.77" fill="#7868c0" opacity="0.8"/>
<circle cx="331.7" cy="237.3" r="14.20" fill="#5242ae"/>
<circle cx="330.7" cy="238.3" r="11.04" fill="#4a3aa8"/>
<circle cx="339.2" cy="259.7" r="3.15" fill="#4838a4" opacity="0.95"/>
<circle cx="347.9" cy="265.3" r="2.84" fill="#4838a4" opacity="0.95"/>
<circle cx="353.4" cy="269.2" r="3.15" fill="#4838a4" opacity="0.95"/>
<circle cx="334.5" cy="266.1" r="2.52" fill="#4838a4" opacity="0.95"/>
<circle cx="366.1" cy="262.9" r="3.15" fill="#4838a4" opacity="0.95"/>
<circle cx="361.3" cy="251.1" r="2.21" fill="#4838a4" opacity="0.95"/>
<circle cx="383.4" cy="259.7" r="2.52" fill="#4838a4" opacity="0.95"/>
<circle cx="388.1" cy="264.5" r="2.52" fill="#4838a4" opacity="0.95"/>
<circle cx="385.0" cy="269.2" r="2.21" fill="#4838a4" opacity="0.95"/>
<circle cx="391.3" cy="259.0" r="1.89" fill="#4838a4" opacity="0.95"/>
<circle cx="378.7" cy="245.5" r="2.21" fill="#4838a4" opacity="0.95"/>
<circle cx="367.6" cy="236.1" r="2.21" fill="#4838a4" opacity="0.95"/>
<circle cx="358.2" cy="232.9" r="1.89" fill="#4838a4" opacity="0.95"/>
<circle cx="350.3" cy="225.0" r="2.21" fill="#4838a4" opacity="0.95"/>
<circle cx="345.5" cy="220.3" r="1.89" fill="#4838a4" opacity="0.95"/>
<circle cx="381.8" cy="220.3" r="2.21" fill="#4838a4" opacity="0.95"/>
<circle cx="377.1" cy="234.5" r="1.58" fill="#4838a4" opacity="0.95"/>
</g>
<polygon points="347.9,241.1 353.4,231.7 361.3,229.8 366.4,234.8 372.7,241.1 369.2,250.6 361.3,255.3 351.9,253.7 345.5,249.0" fill="#fff" filter="url(#b1)"/>
<polygon points="368.4,220.3 377.1,219.5 377.9,230.6 369.2,231.7" fill="#fff" filter="url(#b1)"/>
<polygon points="379.5,223.5 396.0,221.9 396.0,255.3 388.1,253.7 381.0,250.6 375.8,242.4" fill="#fbfaff" filter="url(#b1)"/>
<polygon points="314.0,260.1 329.0,260.7 330.6,277.1 314.0,277.1" fill="#fff" filter="url(#b1)"/>
<polygon points="355.8,261.6 361.3,269.2 380.2,261.3 381.0,277.1 355.3,277.1" fill="#fff" filter="url(#b1)"/>
<circle cx="379.0" cy="245.5" r="1.89" fill="#4838a4" filter="url(#b03)"/>
<circle cx="387.3" cy="242.4" r="1.58" fill="#4838a4" filter="url(#b03)"/>
<circle cx="392.1" cy="239.2" r="1.58" fill="#4838a4" filter="url(#b03)"/>
<circle cx="383.4" cy="234.5" r="1.42" fill="#4838a4" filter="url(#b03)"/>
<circle cx="389.7" cy="229.8" r="1.58" fill="#4838a4" filter="url(#b03)"/>
<circle cx="361.3" cy="251.1" r="1.89" fill="#4838a4" filter="url(#b03)"/>
<circle cx="366.1" cy="263.2" r="2.84" fill="#4838a4" filter="url(#b03)"/>
<circle cx="385.8" cy="249.5" r="1.74" fill="#4838a4" filter="url(#b03)"/>
<circle cx="392.9" cy="247.9" r="1.58" fill="#4838a4" filter="url(#b03)"/>
<circle cx="381.8" cy="229.0" r="1.42" fill="#4838a4" filter="url(#b03)"/>
<circle cx="388.1" cy="223.5" r="1.58" fill="#4838a4" filter="url(#b03)"/>
<circle cx="392.9" cy="232.9" r="1.26" fill="#4838a4" filter="url(#b03)"/>
<circle cx="378.7" cy="239.2" r="1.42" fill="#4838a4" filter="url(#b03)"/>
<circle cx="367.6" cy="266.1" r="1.58" fill="#4838a4" filter="url(#b03)"/>
<circle cx="373.9" cy="270.8" r="1.42" fill="#4838a4" filter="url(#b03)"/>
<path transform="translate(327.9,229.8) rotate(35)" d="M0,0 L-7,-2.8 L-4.34,0 L-7,2.8 Z" fill="#0a0a10"/>
<rect x="373.90" y="273.00" width="19.00" height="2.00" fill="#000" />
</g>
<line x1="158.00" y1="284.00" x2="255.00" y2="284.00" stroke="#000" stroke-width="1.0" />
<line x1="297.50" y1="284.00" x2="394.10" y2="284.00" stroke="#000" stroke-width="1.0" />
<line x1="158.00" y1="281.30" x2="158.00" y2="286.60" stroke="#000" stroke-width="1.0" />
<line x1="394.10" y1="281.30" x2="394.10" y2="286.60" stroke="#000" stroke-width="1.0" />
<text x="276.00" y="286.80" font-size="7.8" text-anchor="middle" font-weight="normal" fill="#111"  stroke="#111" stroke-width="0.14">iDELTA-3.7</text>
<text x="373.60" y="17.00" font-size="10.5" text-anchor="start" font-weight="bold" fill="#000"  stroke="#000" stroke-width="0.4">D</text>
<g clip-path="url(#cD1)">
<rect x="373.20" y="23.20" width="67.90" height="69.00" fill="#e6e6e6" />
<g filter="url(#grain)">
<polygon points="442.9,58.3 442.9,63.5 441.9,68.6 440.4,73.7 437.2,77.8 434.3,82.2 428.8,83.3 425.4,87.1 421.4,90.6 416.3,90.8 411.3,92.1 406.6,89.1 401.7,89.1 397.5,86.5 392.9,84.7 389.1,81.4 387.3,76.4 384.3,72.6 382.3,68.1 379.2,63.6 379.2,58.3 381.6,53.4 380.7,48.0 384.5,44.1 385.8,39.0 390.1,36.2 393.9,33.4 396.6,28.3 401.9,28.4 406.6,27.2 411.3,24.2 416.4,25.0 420.7,28.1 426.1,28.0 429.7,31.9 433.8,34.9 435.8,39.8 440.4,42.9 441.6,48.1 443.6,53.0" fill="#a4a4a4" stroke="#8a8a8a" stroke-width="0.6"/>
<ellipse cx="406" cy="40.6" rx="16.2" ry="9" fill="#adadad" stroke="#6e6e6e" stroke-width="0.7" transform="rotate(6 406 40.6)"/>
<ellipse cx="404.8" cy="71.4" rx="21.6" ry="14.6" fill="#adadad" stroke="#6e6e6e" stroke-width="0.7" transform="rotate(4 404.8 71.4)"/>
<circle cx="403.9" cy="63.3" r="3.17" fill="#8a8a8a" filter="url(#b05)"/>
<circle cx="414.0" cy="68.3" r="2.31" fill="#8a8a8a" filter="url(#b05)"/>
<circle cx="408.9" cy="45.2" r="2.02" fill="#8a8a8a" filter="url(#b05)"/>
<circle cx="428.4" cy="55.3" r="2.02" fill="#8a8a8a" filter="url(#b05)"/>
<circle cx="403.9" cy="83.5" r="1.44" fill="#8a8a8a" filter="url(#b05)"/>
</g>
<text x="374.40" y="30.90" font-size="8" text-anchor="start" font-weight="normal" fill="#333"  stroke="#333" stroke-width="0.14">DMSO</text>
<text x="407.50" y="41.30" font-size="5.5" text-anchor="start" font-weight="normal" fill="#222"  stroke="#222" stroke-width="0.14">N</text>
<text x="390.00" y="74.00" font-size="5.5" text-anchor="start" font-weight="normal" fill="#222"  stroke="#222" stroke-width="0.14">N</text>
<text x="424.50" y="63.50" font-size="5.2" text-anchor="start" font-weight="normal" fill="#333"  stroke="#333" stroke-width="0.14">DMS</text>
<text x="421.50" y="35.60" font-size="4.5" text-anchor="start" font-weight="normal" fill="#222"  stroke="#222" stroke-width="0.14">α</text>
<path d="M427.1,34.1 l-3,-1.5 l0.9,1.5 l-0.9,1.5 z" fill="#1a1a1a"/>
<text x="428.50" y="47.50" font-size="4.5" text-anchor="start" font-weight="normal" fill="#222"  stroke="#222" stroke-width="0.14">α</text>
<path d="M434.1,46.0 l-3,-1.5 l0.9,1.5 l-0.9,1.5 z" fill="#1a1a1a"/>
<text x="377.40" y="87.40" font-size="6" text-anchor="start" font-weight="normal" fill="#222" stroke="#222" stroke-width="0.25">2µm</text>
<line x1="377.60" y1="89.10" x2="389.60" y2="89.10" stroke="#222" stroke-width="0.9" />
</g>
<g clip-path="url(#cD2)">
<rect x="443.80" y="23.20" width="68.80" height="69.00" fill="#e2e2e2" />
<g filter="url(#grain)">
<polygon points="512.6,33.5 501.5,33.2 486.2,34.2 467.7,34.2 458.5,39.2 450.8,46.9 443.8,55.7 443.8,93.8 513.8,93.8 513.8,33.5" fill="#9c9c9c" stroke="#858585" stroke-width="0.6"/>
<polygon points="443.1,22.3 449.2,23.1 455.4,29.5 443.8,38.8 443.1,38.8" fill="#8a8a8a"/>
<path d="M454.6,48.5 C463.1,43.1 475.4,41.5 483.1,46.9 S486.2,56.9 476.9,63.1 S463.1,72.3 453.8,81.5 S449.2,64.6 454.6,48.5 Z" fill="#a4a4a4" stroke="#6e6e6e" stroke-width="0.7"/>
<circle cx="468.5" cy="56.2" r="3.38" fill="#808080" filter="url(#b05)"/>
<circle cx="486.2" cy="43.1" r="2.15" fill="#808080" filter="url(#b05)"/>
<circle cx="464.6" cy="63.8" r="1.54" fill="#808080" filter="url(#b05)"/>
<circle cx="507.7" cy="53.1" r="1.54" fill="#808080" filter="url(#b05)"/>
</g>
<rect x="473.1" y="60.8" width="35.7" height="31.2" fill="#b0b0b0" fill-opacity="0.25" stroke="#4c4c4c" stroke-width="0.6"/>
<text x="444.80" y="30.90" font-size="8" text-anchor="start" font-weight="normal" fill="#333"  stroke="#333" stroke-width="0.14">CHIR</text>
<text x="459.00" y="60.80" font-size="5.5" text-anchor="start" font-weight="normal" fill="#222"  stroke="#222" stroke-width="0.14">N</text>
<text x="447.20" y="87.90" font-size="6" text-anchor="start" font-weight="normal" fill="#222" stroke="#222" stroke-width="0.25">2µm</text>
<line x1="447.30" y1="89.50" x2="459.30" y2="89.50" stroke="#222" stroke-width="0.9" />
</g>
<line x1="373.40" y1="102.70" x2="472.50" y2="93.10" stroke="#8a8a8a" stroke-width="0.75" stroke-dasharray="3 2.2"/>
<line x1="459.20" y1="102.90" x2="510.50" y2="93.30" stroke="#8a8a8a" stroke-width="0.75" stroke-dasharray="3 2.2"/>
<g clip-path="url(#cD3)">
<rect x="373.5" y="103" width="85.6" height="85" fill="#a6a6a6" filter="url(#swirl)"/>
<circle cx="428.8" cy="157.7" r="3.62" fill="#7c7c7c" filter="url(#b05)"/>
<circle cx="415.2" cy="175.8" r="2.71" fill="#7c7c7c" filter="url(#b05)"/>
<circle cx="381.8" cy="157.7" r="2.89" fill="#7c7c7c" filter="url(#b05)"/>
<circle cx="410.7" cy="115.2" r="2.35" fill="#7c7c7c" filter="url(#b05)"/>
<circle cx="400.7" cy="165.8" r="2.17" fill="#7c7c7c" filter="url(#b05)"/>
<circle cx="432.4" cy="105.2" r="2.17" fill="#7c7c7c" filter="url(#b05)"/>
<text x="377.00" y="110.00" font-size="5.5" text-anchor="start" font-weight="normal" fill="#222"  stroke="#222" stroke-width="0.14">N</text>
<text x="403.50" y="113.00" font-size="4.5" text-anchor="start" font-weight="normal" fill="#222"  stroke="#222" stroke-width="0.14">α</text>
<path d="M409.1,111.5 l-3,-1.5 l0.9,1.5 l-0.9,1.5 z" fill="#1a1a1a"/>
<text x="386.50" y="140.00" font-size="4.5" text-anchor="start" font-weight="normal" fill="#222"  stroke="#222" stroke-width="0.14">α</text>
<path d="M392.1,138.5 l-3,-1.5 l0.9,1.5 l-0.9,1.5 z" fill="#1a1a1a"/>
<text x="441.00" y="128.60" font-size="5" text-anchor="start" font-weight="normal" fill="#222"  stroke="#222" stroke-width="0.14">Mi</text>
<text x="430.50" y="153.00" font-size="4.6" text-anchor="start" font-weight="normal" fill="#222"  stroke="#222" stroke-width="0.14">Li</text>
<text x="390.00" y="185.40" font-size="6" text-anchor="middle" font-weight="normal" fill="#222" stroke="#222" stroke-width="0.25">2µm</text>
<line x1="376.30" y1="186.80" x2="402.50" y2="186.80" stroke="#222" stroke-width="0.9" />
</g>
<text x="443.60" y="102.70" font-size="7.7" text-anchor="start" font-weight="normal" fill="#333"  stroke="#333" stroke-width="0.14">DMS</text>
<rect x="0.5" y="0.5" width="519" height="647" fill="none" stroke="#000" stroke-width="1.2"/>
</svg>
</body></html>
